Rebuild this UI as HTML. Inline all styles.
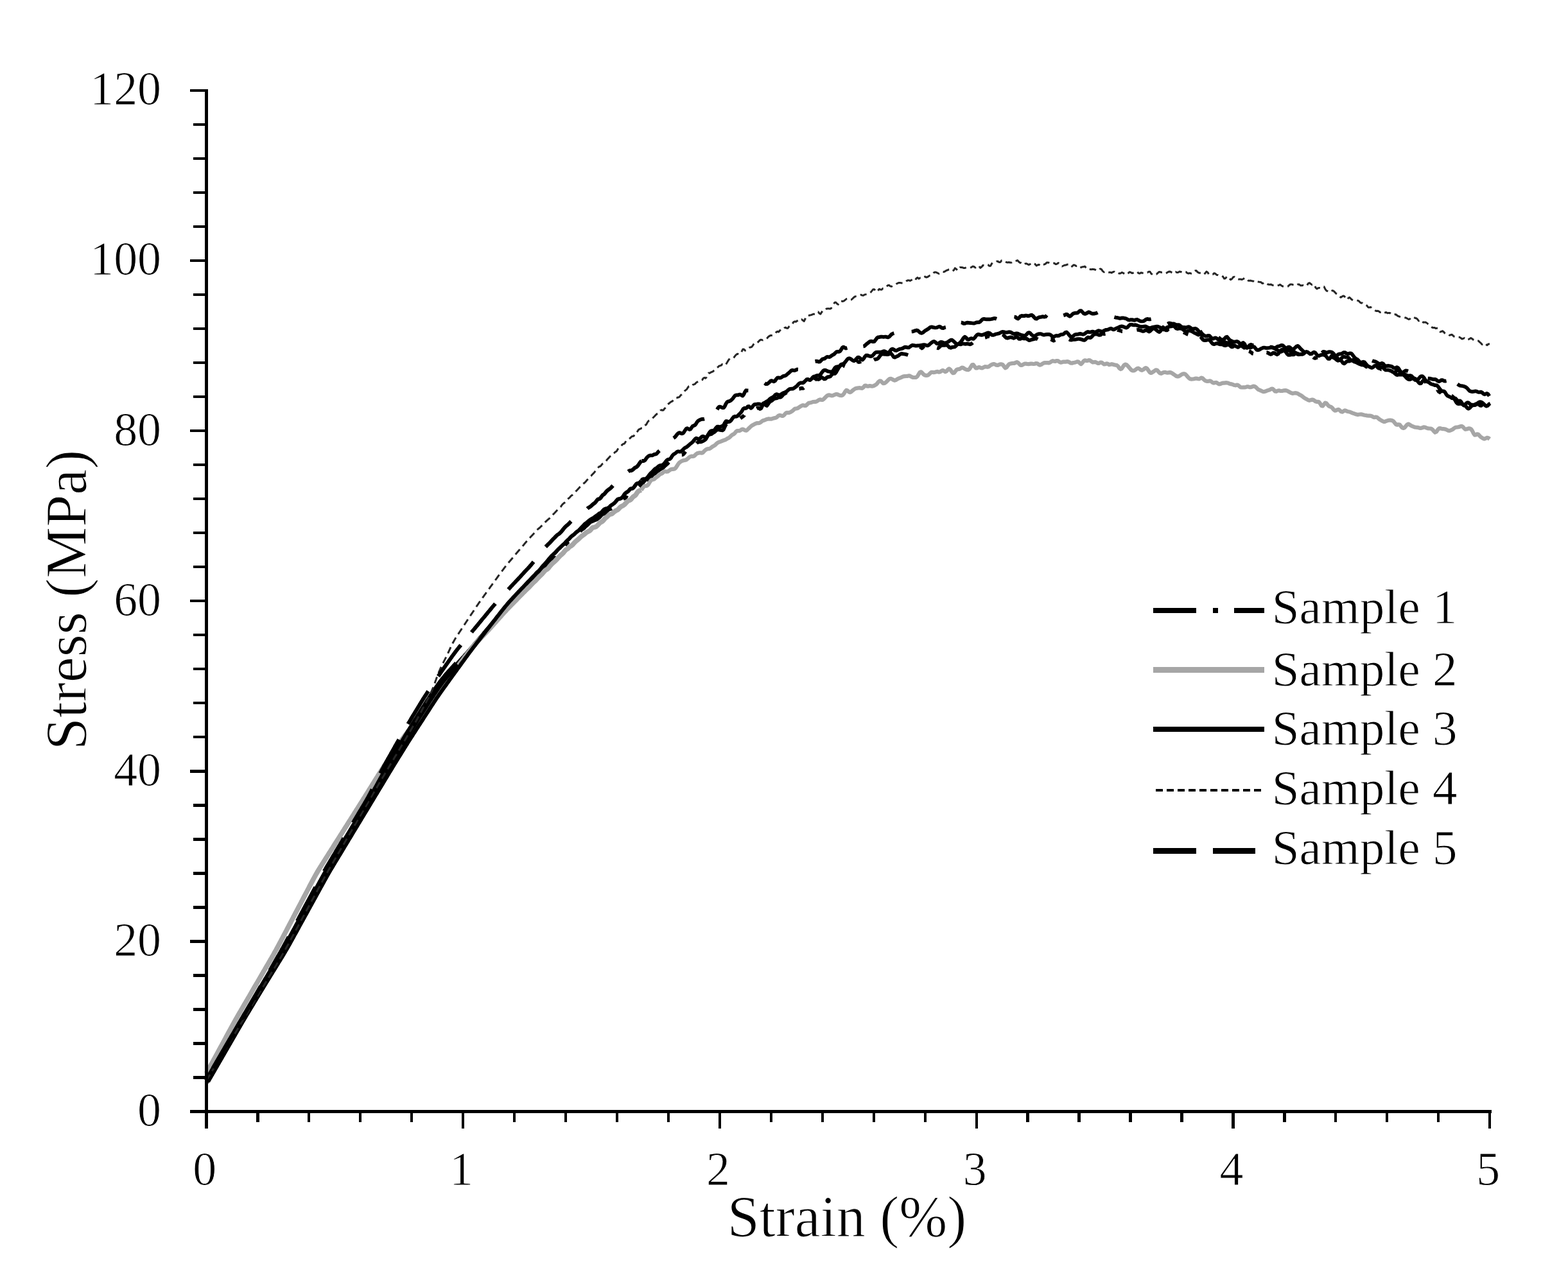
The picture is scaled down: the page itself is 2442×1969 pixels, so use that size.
<!DOCTYPE html>
<html><head><meta charset="utf-8"><title>Stress-Strain</title>
<style>html,body{margin:0;padding:0;background:#fff;overflow:hidden}svg{display:block}</style>
</head><body>
<svg width="2442" height="1969" viewBox="0 0 2442 1969">
<rect width="2442" height="1969" fill="#fff"/>
<g fill="none" stroke-linejoin="round" stroke-linecap="butt">
<path d="M322.4,1684.0 L323.4,1682.3 L324.4,1680.5 L325.4,1678.8 L326.4,1677.1 L327.4,1675.3 L328.4,1673.6 L329.4,1671.9 L330.4,1670.1 L331.4,1668.4 L332.4,1666.7 L333.4,1664.9 L334.4,1663.2 L335.4,1661.5 L336.4,1659.7 L337.4,1658.0 L338.4,1656.3 L339.4,1654.5 L340.4,1652.8 L341.4,1651.1 L342.4,1649.3 L343.4,1647.6 L344.4,1645.9 L345.4,1644.1 L346.4,1642.4 L347.4,1640.7 L348.4,1638.9 L349.4,1637.2 L350.4,1635.5 L351.4,1633.8 L352.4,1632.0 L353.4,1630.3 L354.4,1628.6 L355.4,1626.8 L356.4,1625.1 L357.4,1623.4 L358.4,1621.6 L359.4,1619.9 L360.4,1618.2 L361.4,1616.4 L362.4,1614.7 L363.4,1613.0 L364.4,1611.2 L365.4,1609.5 L366.4,1607.8 L367.4,1606.0 L368.4,1604.3 L369.4,1602.6 L370.4,1600.8 L371.4,1599.1 L372.4,1597.4 L373.4,1595.6 L374.4,1593.9 L375.4,1592.2 L376.4,1590.5 L377.5,1588.7 L378.5,1587.0 L379.5,1585.3 L380.5,1583.6 L381.5,1581.8 L382.5,1580.1 L383.6,1578.4 L384.6,1576.7 L385.6,1575.0 L386.6,1573.2 L387.7,1571.5 L388.7,1569.8 L389.7,1568.1 L390.7,1566.4 L391.8,1564.7 L392.8,1562.9 L393.8,1561.2 L394.8,1559.5 L395.9,1557.8 L396.9,1556.1 L397.9,1554.3 L398.9,1552.6 L400.0,1550.9 L401.0,1549.2 L402.0,1547.5 L403.0,1545.8 L404.1,1544.0 L405.1,1542.3 L406.1,1540.6 L407.1,1538.9 L408.2,1537.2 L409.2,1535.4 L410.2,1533.7 L411.2,1532.0 L412.3,1530.3 L413.3,1528.6 L414.3,1526.8 L415.3,1525.1 L416.4,1523.4 L417.4,1521.7 L418.4,1520.0 L419.4,1518.3 L420.5,1516.5 L421.5,1514.8 L422.5,1513.1 L423.5,1511.4 L424.6,1509.7 L425.6,1507.9 L426.6,1506.2 L427.6,1504.5 L428.7,1502.8 L429.7,1501.1 L430.7,1499.4 L431.7,1497.6 L432.8,1495.9 L433.8,1494.2 L434.8,1492.5 L435.8,1490.8 L436.8,1489.0 L437.9,1487.3 L438.9,1485.6 L439.9,1483.9 L440.9,1482.1 L441.9,1480.4 L442.9,1478.6 L443.8,1476.9 L444.8,1475.2 L445.8,1473.4 L446.8,1471.7 L447.7,1469.9 L448.7,1468.2 L449.6,1466.4 L450.6,1464.6 L451.6,1462.9 L452.5,1461.1 L453.5,1459.4 L454.4,1457.6 L455.4,1455.9 L456.3,1454.1 L457.3,1452.3 L458.2,1450.6 L459.2,1448.8 L460.2,1447.1 L461.1,1445.3 L462.1,1443.6 L463.0,1441.8 L464.0,1440.0 L464.9,1438.3 L465.9,1436.5 L466.8,1434.8 L467.8,1433.0 L468.8,1431.2 L469.7,1429.5 L470.7,1427.7 L471.6,1426.0 L472.6,1424.2 L473.5,1422.5 L474.5,1420.7 L475.4,1418.9 L476.4,1417.2 L477.4,1415.4 L478.3,1413.7 L479.3,1411.9 L480.2,1410.2 L481.2,1408.4 L482.1,1406.6 L483.1,1404.9 L484.1,1403.1 L485.0,1401.4 L486.0,1399.6 L486.9,1397.9 L487.9,1396.1 L488.8,1394.3 L489.8,1392.6 L490.7,1390.8 L491.7,1389.1 L492.7,1387.3 L493.6,1385.5 L494.6,1383.8 L495.5,1382.0 L496.5,1380.3 L497.4,1378.5 L498.4,1376.8 L499.3,1375.0 L500.3,1373.2 L501.3,1371.5 L502.2,1369.7 L503.2,1368.0 L504.2,1366.2 L505.1,1364.5 L506.1,1362.7 L507.1,1361.0 L508.1,1359.3 L509.1,1357.5 L510.1,1355.8 L511.1,1354.1 L512.1,1352.4 L513.1,1350.6 L514.2,1348.9 L515.2,1347.2 L516.2,1345.5 L517.2,1343.8 L518.3,1342.0 L519.3,1340.3 L520.3,1338.6 L521.4,1336.9 L522.4,1335.2 L523.4,1333.5 L524.5,1331.8 L525.5,1330.0 L526.5,1328.3 L527.5,1326.6 L528.6,1324.9 L529.6,1323.2 L530.6,1321.5 L531.7,1319.7 L532.7,1318.0 L533.7,1316.3 L534.8,1314.6 L535.8,1312.9 L536.8,1311.2 L537.8,1309.5 L538.9,1307.7 L539.9,1306.0 L540.9,1304.3 L542.0,1302.6 L543.0,1300.9 L544.0,1299.2 L545.1,1297.4 L546.1,1295.7 L547.1,1294.0 L548.1,1292.3 L549.2,1290.6 L550.2,1288.9 L551.2,1287.2 L552.3,1285.4 L553.3,1283.7 L554.3,1282.0 L555.4,1280.3 L556.4,1278.6 L557.4,1276.9 L558.4,1275.2 L559.5,1273.4 L560.5,1271.7 L561.5,1270.0 L562.6,1268.3 L563.6,1266.6 L564.6,1264.9 L565.7,1263.1 L566.7,1261.4 L567.7,1259.7 L568.7,1258.0 L569.8,1256.3 L570.8,1254.6 L571.8,1252.8 L572.9,1251.1 L573.9,1249.4 L574.9,1247.7 L575.9,1246.0 L576.9,1244.2 L577.9,1242.5 L578.9,1240.8 L579.9,1239.1 L580.9,1237.3 L581.9,1235.6 L582.9,1233.8 L583.9,1232.1 L584.8,1230.3 L585.8,1228.6 L586.8,1226.8 L587.8,1225.1 L588.7,1223.3 L589.7,1221.6 L590.6,1219.8 L591.6,1218.1 L592.6,1216.3 L593.5,1214.6 L594.5,1212.8 L595.5,1211.1 L596.4,1209.3 L597.4,1207.6 L598.4,1205.8 L599.3,1204.1 L600.3,1202.3 L601.3,1200.6 L602.3,1198.8 L603.3,1197.1 L604.2,1195.3 L605.2,1193.6 L606.2,1191.9 L607.2,1190.1 L608.2,1188.4 L609.3,1186.7 L610.3,1185.0 L611.3,1183.2 L612.3,1181.5 L613.3,1179.8 L614.3,1178.1 L615.4,1176.3 L616.4,1174.6 L617.4,1172.9 L618.4,1171.2 L619.4,1169.5 L620.4,1167.7 L621.5,1166.0 L622.5,1164.3 L623.5,1162.6 L624.5,1160.8 L625.6,1159.1 L626.6,1157.4 L627.6,1155.7 L628.6,1154.0 L629.7,1152.3 L630.7,1150.6 L631.8,1148.8 L632.8,1147.1 L633.8,1145.4 L634.9,1143.7 L635.9,1142.0 L637.0,1140.3 L638.0,1138.6 L639.1,1136.9 L640.1,1135.2 L641.2,1133.5 L642.2,1131.8 L643.3,1130.1 L644.3,1128.4 L645.4,1126.7 L646.4,1125.0 L647.5,1123.3 L648.5,1121.6 L649.6,1119.9 L650.7,1118.2 L651.7,1116.5 L652.8,1114.8 L653.8,1113.1 L654.9,1111.4 L656.0,1109.7 L657.0,1108.0 L658.1,1106.3 L659.2,1104.6 L660.2,1102.9 L661.3,1101.3 L662.4,1099.6 L663.4,1097.9 L664.5,1096.2 L665.6,1094.5 L666.7,1092.8 L667.7,1091.1 L668.8,1089.4 L669.9,1087.8 L671.0,1086.1 L672.1,1084.4 L673.2,1082.8 L674.3,1081.1 L675.4,1079.4 L676.6,1077.8 L677.7,1076.1 L678.8,1074.5 L680.0,1072.8 L681.1,1071.2 L682.2,1069.5 L683.4,1067.9 L684.5,1066.3 L685.7,1064.7 L686.9,1063.0 L688.1,1061.4 L689.3,1059.9 L690.5,1058.3 L691.8,1056.7 L693.1,1055.2 L694.3,1053.7 L695.6,1052.1 L696.9,1050.6 L698.3,1049.1 L699.6,1047.6 L700.9,1046.1 L702.3,1044.6 L703.6,1043.2 L704.9,1041.7 L706.3,1040.2 L707.6,1038.7 L709.0,1037.2 L710.3,1035.7 L711.7,1034.3 L713.0,1032.8 L714.3,1031.3 L715.7,1029.8 L717.0,1028.3 L718.4,1026.8 L719.7,1025.4 L721.1,1023.9 L722.4,1022.4 L723.7,1020.9 L725.1,1019.4 L726.4,1017.9 L727.7,1016.4 L729.0,1014.9 L730.4,1013.4 L731.7,1011.9 L733.0,1010.4 L734.3,1008.9 L735.6,1007.4 L736.9,1005.9 L738.2,1004.3 L739.5,1002.8 L740.8,1001.3 L742.1,999.8 L743.4,998.2 L744.7,996.7 L746.0,995.2 L747.3,993.7 L748.6,992.1 L749.9,990.6 L751.2,989.1 L752.5,987.6 L753.8,986.0 L755.1,984.5 L756.3,983.0 L757.6,981.5 L758.9,979.9 M758.9,979.9 L758.9,979.9 L760.2,978.4 L761.5,976.9 L762.8,975.4 L764.1,973.8 L765.4,972.3 L766.7,970.8 L768.0,969.3 L769.3,967.7 L770.6,966.2 L771.9,964.7 L773.2,963.2 L774.5,961.6 L775.8,960.1 L777.1,958.6 L778.4,957.1 L779.7,955.6 L781.0,954.0 L782.3,952.5 L782.4,952.3 M798.5,934.5 L799.7,933.2 L801.1,931.8 L802.5,930.3 L803.8,928.9 L804.0,928.7 M820.7,911.5 L821.9,910.3 L823.3,908.8 L824.7,907.4 L826.1,905.9 L827.5,904.3 L828.9,902.8 L830.3,901.5 L831.7,900.3 L833.1,898.8 L834.5,897.2 L835.9,895.6 L837.3,894.2 L838.7,892.9 L840.0,891.5 L841.4,890.0 L842.8,888.6 L844.1,887.2 L845.5,885.8 L846.8,884.5 L848.1,882.9 L849.4,881.2 L850.8,879.7 L852.1,878.3 L853.4,877.0 L854.7,875.5 L856.0,874.0 L857.3,872.4 L858.7,870.8 L860.0,869.2 L861.4,867.5 L862.8,866.1 L862.8,866.0 M879.8,849.2 L879.9,849.1 L881.3,847.7 L882.8,846.1 L884.2,844.6 L885.5,843.6 M903.4,827.9 L903.4,827.9 L904.9,826.0 L906.4,824.7 L907.9,823.9 L909.4,822.7 L910.9,821.1 L912.5,819.6 L914.0,818.4 L915.5,817.1 L917.1,815.5 L918.7,813.9 L920.3,812.8 L921.9,812.2 L923.5,811.5 L925.1,810.8 L926.8,810.1 L928.4,809.5 L930.0,808.7 L931.7,807.4 L933.3,806.1 L935.0,804.4 L936.7,802.4 L938.3,801.1 L940.0,800.4 L941.7,799.8 L943.3,798.4 L945.0,796.4 L946.6,794.7 L948.2,793.6 L949.8,792.9 L951.5,792.5 L952.6,791.9 M970.6,776.9 L971.8,776.4 L973.3,776.1 L974.9,774.4 L976.3,771.9 M995.3,757.9 L996.5,756.6 L998.1,755.1 L999.6,753.7" stroke="#000" stroke-width="6.0"/>
<path d="M998.1,755.1 L999.6,753.7 L1001.2,752.3 L1002.7,750.5 L1004.3,748.2 L1005.8,746.9 L1007.4,746.9 L1008.9,747.3 L1010.5,747.3 L1012.1,746.1 L1013.7,743.9 L1015.2,741.5 L1016.8,739.6 L1018.4,738.5 L1020.0,737.6 L1021.6,736.2 L1023.2,734.7 L1024.9,733.6 L1026.5,732.5 L1028.1,731.3 L1029.7,730.3 L1031.3,729.5 L1032.9,728.5 L1034.6,726.8 L1036.2,725.1 L1037.8,723.9 L1039.4,722.6 L1041.0,720.7 L1041.7,720.0 M1061.9,708.6 L1062.1,708.6 L1063.8,708.0 L1065.4,706.4 L1067.1,704.1 L1067.6,703.4 M1084.7,690.7 L1085.6,689.7 L1087.4,688.8 L1089.1,688.4 L1090.8,688.4 L1092.5,688.1 L1094.2,687.4 L1095.9,686.5 L1097.7,685.4 L1099.4,683.8 L1101.1,680.9 L1102.8,678.0 L1104.5,676.8 L1106.2,676.6 L1107.9,676.2 L1109.7,674.8 L1111.4,673.7 L1113.1,672.8 L1114.8,671.1 L1116.5,669.7 L1118.2,669.3 L1119.9,669.5 L1121.7,669.9 L1123.4,670.1 L1125.1,670.5 L1126.8,669.2 L1128.5,665.6 L1130.2,661.9 L1131.9,660.5 L1132.8,661.1 M1153.0,651.7 L1154.0,650.9 L1155.7,649.7 L1157.4,648.5 L1159.1,646.9 L1159.2,646.7 M1178.4,636.4 L1180.0,635.5 L1181.8,635.7 L1183.6,637.0 L1185.4,636.1 L1187.2,632.2 L1189.0,628.2 L1190.9,628.4 L1192.7,631.4 L1194.5,632.0 L1196.3,629.4 L1198.1,626.7 L1199.9,625.3 L1201.8,624.3 L1203.6,622.8 L1205.4,621.2 L1207.2,620.7 L1209.0,620.5 L1210.8,619.8 L1212.6,619.0 L1214.5,618.8 L1216.3,618.6 L1218.1,616.8 L1219.9,614.5 L1221.7,613.4 L1223.5,612.6 L1224.8,611.3 M1244.5,605.7 L1245.3,605.6 L1247.1,604.8 L1248.9,604.7 L1250.7,605.0 L1252.0,604.0 M1268.8,592.5 L1268.9,592.3 L1270.7,590.6 L1272.6,590.3 L1274.4,591.0 L1276.2,590.3 L1278.1,588.4 L1279.9,587.8 L1281.8,589.0 L1283.6,590.4 L1285.4,590.2 L1287.3,588.3 L1289.1,587.2 L1291.0,587.1 L1292.9,586.6 L1294.7,584.5 L1296.6,582.3 L1298.4,582.2 L1300.3,582.0 L1302.1,580.0 L1304.0,576.7 L1305.8,573.5 L1307.7,570.4 L1309.5,567.9 L1311.4,567.3 L1313.2,568.7 L1315.1,570.4 L1315.8,570.7 M1333.4,564.1 L1333.7,563.6 L1335.6,563.1 L1337.4,564.1 L1339.3,563.8 L1340.6,562.9 M1361.0,560.5 L1362.1,559.9 L1364.1,559.6 L1366.0,559.3 L1368.0,557.8 L1370.0,554.9 L1371.9,552.5 L1373.9,551.4 L1375.9,551.7 L1377.9,551.9 L1379.8,551.9 L1381.8,552.3 L1383.8,552.0 L1385.8,551.0 L1387.7,550.7 L1389.7,553.0 L1391.7,556.0 L1393.7,556.7 L1395.6,555.7 L1397.6,554.9 L1399.6,553.8 L1401.6,551.9 L1403.5,550.9 L1405.5,551.1 L1407.5,551.5 L1409.4,551.7 L1411.4,552.1 L1413.4,552.9 L1414.2,553.2 M1433.4,544.2 L1435.0,541.9 L1437.0,541.2 L1439.0,543.2 L1439.1,543.3 M1459.3,541.8 L1460.8,542.3 L1462.7,541.0 L1464.7,538.9 L1466.7,537.8 L1468.7,537.8 L1470.7,538.0 L1472.7,537.6 L1474.7,537.5 L1476.7,539.1 L1478.7,541.3 L1480.7,541.8 L1482.7,540.9 L1484.7,540.6 L1486.7,540.5 L1488.6,539.0 L1490.6,536.9 L1492.6,535.9 L1494.6,536.3 L1496.6,536.3 L1498.6,535.4 L1500.5,535.5 L1502.5,535.8 L1504.4,535.8 L1506.4,535.4 L1508.3,535.7 L1510.3,536.4 L1512.2,535.9 L1514.1,534.6 L1514.9,533.9 M1534.0,525.8 L1535.4,525.5 L1537.3,524.4 L1539.3,523.9 L1541.2,524.3 L1541.5,524.4 M1561.0,521.3 L1563.0,522.0 L1565.0,524.3 L1567.0,526.3 L1569.0,526.7 L1571.0,526.0 L1573.0,525.4 L1575.0,525.3 L1576.9,526.1 L1578.9,526.8 L1580.9,525.7 L1582.9,524.3 L1584.9,525.6 L1586.9,527.9 L1588.9,528.0 L1590.9,526.7 L1592.9,526.8 L1594.9,527.5 L1596.9,527.2 L1598.9,527.6 L1600.9,529.1 L1602.9,530.2 L1604.9,529.8 L1606.9,528.8 L1608.9,528.6 L1610.9,528.1 L1612.9,527.4 L1614.9,527.7 L1616.3,528.5 M1636.4,528.4 L1636.9,528.4 L1638.9,529.8 L1640.9,530.8 L1642.9,529.8 L1643.4,529.6 M1665.1,528.6 L1666.8,529.5 L1668.8,529.6 L1670.8,529.0 L1672.8,529.0 L1674.8,528.8 L1676.8,528.4 L1678.8,528.0 L1680.7,528.0 L1682.7,528.4 L1684.7,528.8 L1686.7,529.7 L1688.7,530.0 L1690.6,528.8 L1692.6,526.6 L1694.5,525.4 L1696.5,525.9 L1698.4,526.1 L1700.4,524.5 L1702.3,522.1 L1704.3,520.9 L1706.2,520.5 L1708.1,520.5 L1710.1,521.2 L1712.0,522.0 L1713.9,521.7 L1715.9,520.1 L1717.8,519.5 L1719.8,520.3 L1721.5,520.0 M1740.5,513.7 L1741.5,514.3 L1743.5,514.7 L1745.5,515.3 L1747.5,516.2 L1748.0,516.2 M1770.3,514.0 L1771.4,513.8 L1773.4,513.9 L1775.4,514.4 L1777.4,515.0 L1779.4,516.0 L1781.4,515.9 L1783.4,514.6 L1785.4,514.0 L1787.4,515.3 L1789.4,516.6 L1791.4,515.6 L1793.4,513.4 L1795.4,511.8 L1797.4,511.7 L1799.4,512.8 L1801.4,514.5 L1803.4,516.2 L1805.4,517.1 L1807.4,515.6 L1809.4,511.9 L1811.4,509.8 L1813.4,511.6 L1815.4,514.3 L1817.4,514.4 L1819.4,512.8 L1820.9,512.5 M1843.3,517.5 L1845.1,518.5 L1847.1,519.5 L1849.0,520.6 L1850.4,521.1 M1869.4,524.0 L1870.0,524.4 L1871.8,527.2 L1873.7,529.3 L1875.6,530.2 L1877.5,530.2 L1879.4,529.7 L1881.3,529.2 L1883.2,529.3 L1885.1,531.1 L1887.0,533.8 L1888.9,535.7 L1890.8,536.2 L1892.7,535.6 L1894.6,534.9 L1896.6,535.1 L1898.5,536.0 L1900.4,536.4 L1902.3,536.4 L1904.2,536.8 L1906.1,537.9 L1908.1,538.3 L1910.0,537.7 L1911.9,536.7 L1913.8,536.6 L1915.8,538.4 L1917.7,540.3 L1919.6,540.4 L1921.5,539.3 L1922.7,539.4 M1945.0,547.2 L1945.0,547.2 L1947.0,547.8 L1949.0,549.1 L1950.9,550.8 L1951.9,551.0 M1972.5,549.0 L1972.8,549.0 L1974.8,549.7 L1976.8,551.0 L1978.8,552.0 L1980.8,551.3 L1982.8,549.7 L1984.8,549.8 L1986.8,551.3 L1988.8,552.3 L1990.8,551.1 L1992.7,548.3 L1994.7,545.8 L1996.7,544.5 L1998.7,544.9 L2000.7,546.3 L2002.7,548.5 L2004.6,551.3 L2006.6,553.0 L2008.6,553.0 L2010.5,552.3 L2012.5,552.5 L2014.5,552.5 L2016.4,551.3 L2018.4,550.2 L2020.4,550.5 L2022.3,551.7 L2024.0,552.7 M2045.2,556.5 L2046.0,557.2 L2048.0,558.0 L2049.9,557.3 L2051.9,556.7 L2052.5,557.0 M2074.9,556.4 L2075.7,556.7 L2077.7,557.6 L2079.7,558.8 L2081.7,560.5 L2083.7,561.8 L2085.7,561.2 L2087.7,560.8 L2089.7,562.8 L2091.7,565.6 L2093.6,566.4 L2095.6,564.6 L2097.6,562.8 L2099.5,562.7 L2101.5,562.6 L2103.4,561.7 L2105.4,561.3 L2107.3,562.3 L2109.2,563.5 L2111.2,564.1 L2113.1,564.9 L2115.0,565.9 L2116.9,566.8 L2118.8,567.7 L2120.7,568.4 L2122.7,568.4 L2124.6,568.9 L2126.5,570.3 L2128.4,571.5 L2128.7,571.4 M2146.4,569.6 L2147.6,570.5 L2149.5,573.7 L2151.4,575.4 L2151.6,575.4 M2171.4,581.1 L2172.6,582.0 L2174.6,583.7 L2176.5,584.1 L2178.4,583.6 L2180.3,583.7 L2182.3,583.6 L2184.2,583.4 L2186.1,584.0 L2188.1,586.0 L2190.0,588.2 L2191.9,589.8 L2193.8,591.0 L2195.8,591.1 L2197.7,590.4 L2199.6,589.3 L2201.5,588.9 L2203.5,589.6 L2205.4,590.9 L2207.3,593.2 L2209.2,595.6 L2211.1,597.3 L2213.0,597.2 L2214.9,594.8 L2216.7,592.5 L2218.6,592.5 L2220.4,595.1 L2221.1,596.6 M2239.1,607.4 L2239.1,607.5 L2240.8,610.2 L2242.4,611.0 L2244.1,612.0 L2244.7,612.7 M2260.6,616.7 L2261.3,616.9 L2263.0,618.4 L2264.8,621.0 L2266.6,624.2 L2268.4,627.2 L2270.2,629.0 L2272.0,629.1 L2273.8,628.8 L2275.7,629.0 L2277.5,629.6 L2279.4,630.3 L2281.3,631.2 L2283.2,633.2 L2285.1,635.6 L2287.1,636.6 L2289.1,635.3 L2291.0,633.1 L2293.0,631.7 L2295.0,631.1 L2297.0,630.0 L2299.0,629.1 L2301.0,629.2 L2303.0,630.0 L2305.0,631.6 L2307.0,631.9 L2309.0,629.8 L2309.3,629.4" stroke="#000" stroke-width="5.7"/>
<path d="M321.5,1672.0 L322.5,1670.2 L323.4,1668.5 L324.4,1666.7 L325.3,1665.0 L326.3,1663.2 L327.2,1661.5 L328.2,1659.7 L329.1,1657.9 L330.1,1656.2 L331.0,1654.4 L332.0,1652.7 L332.9,1650.9 L333.9,1649.1 L334.9,1647.4 L335.8,1645.6 L336.8,1643.9 L337.7,1642.1 L338.7,1640.4 L339.6,1638.6 L340.6,1636.8 L341.5,1635.1 L342.5,1633.3 L343.4,1631.6 L344.4,1629.8 L345.4,1628.1 L346.3,1626.3 L347.3,1624.5 L348.2,1622.8 L349.2,1621.0 L350.1,1619.3 L351.1,1617.5 L352.0,1615.7 L353.0,1614.0 L353.9,1612.2 L354.9,1610.5 L355.8,1608.7 L356.8,1607.0 L357.8,1605.2 L358.7,1603.4 L359.7,1601.7 L360.6,1599.9 L361.6,1598.2 L362.5,1596.4 L363.5,1594.7 L364.5,1592.9 L365.5,1591.2 L366.4,1589.4 L367.4,1587.7 L368.4,1586.0 L369.4,1584.2 L370.4,1582.5 L371.4,1580.7 L372.4,1579.0 L373.4,1577.3 L374.4,1575.6 L375.4,1573.8 L376.4,1572.1 L377.4,1570.4 L378.4,1568.6 L379.4,1566.9 L380.4,1565.2 L381.4,1563.5 L382.5,1561.7 L383.5,1560.0 L384.5,1558.3 L385.5,1556.5 L386.5,1554.8 L387.5,1553.1 L388.5,1551.4 L389.5,1549.6 L390.5,1547.9 L391.5,1546.2 L392.5,1544.4 L393.5,1542.7 L394.5,1541.0 L395.5,1539.2 L396.5,1537.5 L397.5,1535.8 L398.5,1534.1 L399.6,1532.3 L400.6,1530.6 L401.6,1528.9 L402.6,1527.1 L403.6,1525.4 L404.6,1523.7 L405.6,1522.0 L406.6,1520.2 L407.6,1518.5 L408.6,1516.8 L409.6,1515.0 L410.6,1513.3 L411.6,1511.6 L412.6,1509.9 L413.6,1508.1 L414.6,1506.4 L415.6,1504.7 L416.7,1502.9 L417.7,1501.2 L418.7,1499.5 L419.7,1497.8 L420.7,1496.0 L421.7,1494.3 L422.7,1492.6 L423.7,1490.8 L424.7,1489.1 L425.7,1487.4 L426.7,1485.6 L427.6,1483.9 L428.6,1482.1 L429.6,1480.4 L430.6,1478.6 L431.5,1476.9 L432.5,1475.1 L433.4,1473.4 L434.4,1471.6 L435.3,1469.8 L436.2,1468.1 L437.2,1466.3 L438.1,1464.5 L439.0,1462.8 L440.0,1461.0 L440.9,1459.2 L441.8,1457.5 L442.8,1455.7 L443.7,1453.9 L444.6,1452.1 L445.6,1450.4 L446.5,1448.6 L447.4,1446.8 L448.3,1445.1 L449.3,1443.3 L450.2,1441.5 L451.1,1439.7 L452.1,1438.0 L453.0,1436.2 L453.9,1434.4 L454.9,1432.7 L455.8,1430.9 L456.7,1429.1 L457.6,1427.4 L458.6,1425.6 L459.5,1423.8 L460.4,1422.0 L461.4,1420.3 L462.3,1418.5 L463.2,1416.7 L464.1,1415.0 L465.1,1413.2 L466.0,1411.4 L466.9,1409.6 L467.9,1407.9 L468.8,1406.1 L469.7,1404.3 L470.7,1402.6 L471.6,1400.8 L472.5,1399.0 L473.4,1397.2 L474.4,1395.5 L475.3,1393.7 L476.2,1391.9 L477.2,1390.2 L478.1,1388.4 L479.0,1386.6 L480.0,1384.9 L480.9,1383.1 L481.8,1381.3 L482.7,1379.5 L483.7,1377.8 L484.6,1376.0 L485.5,1374.2 L486.5,1372.5 L487.4,1370.7 L488.4,1368.9 L489.3,1367.2 L490.3,1365.4 L491.2,1363.7 L492.2,1361.9 L493.2,1360.2 L494.2,1358.5 L495.2,1356.8 L496.3,1355.0 L497.3,1353.3 L498.4,1351.6 L499.4,1349.9 L500.5,1348.2 L501.5,1346.5 L502.6,1344.8 L503.7,1343.2 L504.7,1341.5 L505.8,1339.8 L506.9,1338.1 L507.9,1336.4 L509.0,1334.7 L510.1,1333.0 L511.2,1331.3 L512.2,1329.6 L513.3,1327.9 L514.4,1326.3 L515.4,1324.6 L516.5,1322.9 L517.6,1321.2 L518.7,1319.5 L519.7,1317.8 L520.8,1316.1 L521.9,1314.4 L522.9,1312.7 L524.0,1311.1 L525.1,1309.4 L526.1,1307.7 L527.2,1306.0 L528.3,1304.3 L529.4,1302.6 L530.4,1300.9 L531.5,1299.2 L532.6,1297.5 L533.6,1295.8 L534.7,1294.2 L535.8,1292.5 L536.8,1290.8 L537.9,1289.1 L539.0,1287.4 L540.1,1285.7 L541.1,1284.0 L542.2,1282.3 L543.3,1280.6 L544.3,1278.9 L545.4,1277.3 L546.5,1275.6 L547.5,1273.9 L548.6,1272.2 L549.7,1270.5 L550.8,1268.8 L551.8,1267.1 L552.9,1265.4 L554.0,1263.7 L555.0,1262.0 L556.1,1260.4 L557.2,1258.7 L558.2,1257.0 L559.3,1255.3 L560.4,1253.6 L561.5,1251.9 L562.5,1250.2 L563.6,1248.5 L564.7,1246.8 L565.7,1245.1 L566.8,1243.5 L567.9,1241.8 L568.9,1240.1 L570.0,1238.4 L571.0,1236.7 L572.1,1235.0 L573.2,1233.3 L574.2,1231.6 L575.3,1229.9 L576.3,1228.2 L577.4,1226.5 L578.5,1224.8 L579.5,1223.1 L580.6,1221.4 L581.6,1219.7 L582.7,1218.0 L583.7,1216.3 L584.8,1214.6 L585.9,1212.9 L586.9,1211.2 L588.0,1209.5 L589.0,1207.8 L590.1,1206.1 L591.2,1204.4 L592.2,1202.7 L593.3,1201.0 L594.4,1199.4 L595.4,1197.7 L596.5,1196.0 L597.6,1194.3 L598.7,1192.6 L599.8,1191.0 L600.9,1189.3 L602.0,1187.6 L603.1,1186.0 L604.2,1184.3 L605.3,1182.6 L606.4,1181.0 L607.5,1179.3 L608.7,1177.6 L609.8,1176.0 L610.9,1174.3 L612.0,1172.7 L613.1,1171.0 L614.2,1169.3 L615.3,1167.7 L616.5,1166.0 L617.6,1164.4 L618.7,1162.7 L619.8,1161.1 L621.0,1159.4 L622.1,1157.8 L623.2,1156.1 L624.4,1154.5 L625.5,1152.9 L626.7,1151.2 L627.9,1149.6 L629.1,1148.0 L630.2,1146.4 L631.4,1144.8 L632.6,1143.2 L633.8,1141.6 L635.0,1140.0 L636.2,1138.4 L637.4,1136.8 L638.6,1135.2 L639.8,1133.6 L641.0,1132.0 L642.2,1130.4 L643.4,1128.8 L644.6,1127.2 L645.8,1125.5 L647.0,1123.9 L648.2,1122.3 L649.4,1120.7 L650.6,1119.1 L651.8,1117.5 L652.9,1115.9 L654.1,1114.3 L655.3,1112.7 L656.5,1111.0 L657.6,1109.4 L658.8,1107.8 L660.0,1106.2 L661.2,1104.6 L662.3,1102.9 L663.5,1101.3 L664.7,1099.7 L665.8,1098.1 L667.0,1096.5 L668.2,1094.8 L669.4,1093.2 L670.6,1091.6 L671.8,1090.0 L673.0,1088.4 L674.2,1086.8 L675.4,1085.2 L676.6,1083.7 L677.9,1082.1 L679.1,1080.5 L680.4,1079.0 L681.6,1077.4 L682.9,1075.9 L684.2,1074.4 L685.5,1072.8 L686.8,1071.3 L688.0,1069.8 L689.3,1068.2 L690.6,1066.7 L691.9,1065.2 L693.2,1063.6 L694.4,1062.1 L695.7,1060.5 L697.0,1059.0 L698.2,1057.4 L699.4,1055.8 L700.7,1054.3 L701.9,1052.7 L703.1,1051.1 L704.3,1049.5 L705.5,1047.9 L706.7,1046.3 L708.0,1044.7 L709.2,1043.1 L710.4,1041.5 L711.6,1039.9 L712.8,1038.3 L714.0,1036.7 L715.2,1035.1 L716.4,1033.5 L717.6,1031.9 L718.8,1030.3 L720.0,1028.7 L721.2,1027.1 L722.4,1025.5 L723.6,1023.9 L724.8,1022.3 L726.0,1020.8 L727.2,1019.2 L728.4,1017.6 L729.7,1016.0 L730.9,1014.5 L732.2,1012.9 L733.4,1011.3 L734.7,1009.8 L736.0,1008.3 L737.3,1006.7 L738.6,1005.2 L739.9,1003.7 L741.2,1002.2 L742.5,1000.7 L743.9,999.3 L745.2,997.8 L746.6,996.3 L748.0,994.9 L749.3,993.4 L750.7,992.0 L752.1,990.5 L753.5,989.1 L754.8,987.6 L756.2,986.1 L757.6,984.7 L759.0,983.2 L760.3,981.8 L761.7,980.3 L763.0,978.8 L764.4,977.3 L765.7,975.9 L767.1,974.4 L768.4,972.9 L769.7,971.4 L771.1,969.9 L772.4,968.4 L773.7,966.9 L775.1,965.4 L776.4,963.9 L777.7,962.4 L779.1,961.0 L780.4,959.5 L781.7,958.0 L783.1,956.5 L784.4,955.0 L785.8,953.5 L787.1,952.1 L788.5,950.6 L789.8,949.1 L791.2,947.7 L792.6,946.2 L794.0,944.8 L795.4,943.4 L796.8,941.9 L798.2,940.5 L799.6,939.1 L801.0,937.6 L802.4,936.2 L803.8,934.8 L805.2,933.3 L806.6,931.9 L808.0,930.5 L809.4,929.0 L810.8,927.6 L812.2,926.2 L813.6,924.8 L815.0,923.4 L816.4,922.0 L817.8,920.6 L819.3,919.1 L820.7,917.7 L822.1,916.4 L823.5,915.1 L824.9,913.7 L826.3,912.2 L827.7,910.6 L829.1,909.1 L830.5,907.8 L831.9,906.5 L833.3,905.2 L834.8,903.7 L836.2,902.2 L837.6,900.7 L839.0,899.2 L840.4,897.8 L841.8,896.5 L843.2,895.1 L844.6,893.7 L846.0,892.0 L847.4,890.3 L848.9,888.8 L850.3,887.7 L851.7,887.0 L853.1,885.9 L854.5,884.4 L855.9,882.5 L857.3,880.8 L858.7,879.3 L860.1,877.9 L861.6,876.5 L863.0,875.3 L864.4,874.1 L865.8,872.8 L867.2,871.4 L868.6,869.8 L870.0,868.2 L871.5,866.6 L872.9,865.2 L874.3,864.0 L875.7,862.8 L877.2,861.4 L878.6,859.5 L880.1,857.7 L881.5,856.3 L883.0,855.5 L884.5,854.4 L886.0,852.8 L887.5,851.4 L888.9,850.6 L890.4,849.8 L891.9,848.4 L893.4,846.7 L894.9,845.1 L896.5,843.6 L898.0,842.2 L899.5,841.0 L901.0,839.8 L902.5,838.4 L904.0,836.9 L905.6,835.5 L907.1,834.3 L908.6,833.3 L910.2,832.1 L911.8,830.7 L913.4,829.4 L915.0,828.5 L916.6,827.8 L918.2,826.9 L919.8,825.4 L921.4,823.6 L923.0,822.1 L924.6,821.4 L926.3,821.2 L927.9,820.7 L929.5,819.5 L931.1,817.8 L932.8,816.0 L934.4,814.4 L936.0,813.3 L937.6,812.5 L939.2,811.2 L940.8,809.4 L942.4,807.5 L944.0,806.1 L945.6,804.9 L947.2,803.3 L948.8,801.7 L950.4,801.0 L952.0,800.8 L953.6,800.1 L955.2,798.6 L956.7,797.1 L958.3,796.0 L959.9,795.2 L961.5,794.4 L963.1,793.2 L964.6,791.5 L966.2,789.9 L967.8,788.8 L969.3,788.1 L970.9,787.2 L972.5,786.0 L974.0,784.5 L975.5,782.8 L977.1,781.1 L978.6,780.0 L980.2,779.4 L981.7,778.8 L983.2,777.4 L984.8,775.3 L986.3,773.7 L987.8,772.8 L989.4,771.7 L990.9,769.7 L992.4,767.3 L994.0,765.5 L995.5,764.5 L997.0,763.9 L998.6,763.2" stroke="#a6a6a6" stroke-width="7.6"/>
<path d="M998.6,763.2 L1000.1,761.4 L1001.7,759.2 L1003.2,757.5 L1004.8,756.9 L1006.4,756.9 L1007.9,756.5 L1009.5,755.0 L1011.0,752.6 L1012.6,750.0 L1014.2,748.1 L1015.7,747.3 L1017.3,747.0 L1018.9,746.3 L1020.5,744.9 L1022.0,743.5 L1023.6,742.5 L1025.2,741.3 L1026.8,739.6 L1028.4,738.5 L1030.0,737.9 L1031.7,737.0 L1033.3,735.4 L1035.0,734.3 L1036.7,734.4 L1038.4,734.8 L1040.1,734.5 L1041.8,733.2 L1043.6,731.9 L1045.3,731.1 L1047.1,730.7 L1048.8,730.8 L1050.6,730.4 L1052.3,729.0 L1054.1,726.3 L1055.9,723.3 L1057.6,721.1 L1059.4,719.6 L1061.1,718.6 L1062.9,717.7 L1064.6,717.2 L1066.4,716.9 L1068.2,716.5 L1069.9,715.5 L1071.7,713.9 L1073.4,712.3 L1075.2,711.2 L1077.0,710.7 L1078.7,710.8 L1080.5,710.6 L1082.2,709.4 L1084.0,707.5 L1085.7,706.3 L1087.5,705.7 L1089.3,705.4 L1091.0,705.4 L1092.8,705.7 L1094.6,705.1 L1096.3,703.2 L1098.1,701.4 L1099.9,700.1 L1101.6,699.4 L1103.4,699.2 L1105.2,698.9 L1106.9,697.9 L1108.7,696.4 L1110.5,695.2 L1112.3,694.3 L1114.1,693.0 L1115.8,691.1 L1117.6,689.7 L1119.4,688.8 L1121.2,688.3 L1122.9,687.7 L1124.7,686.9 L1126.5,686.1 L1128.3,685.5 L1130.1,684.8 L1131.8,683.8 L1133.6,682.8 L1135.4,681.9 L1137.2,680.4 L1138.9,678.5 L1140.7,677.2 L1142.5,676.4 L1144.3,674.9 L1146.1,672.5 L1147.8,671.2 L1149.6,671.2 L1151.4,671.1 L1153.2,670.4 L1155.0,669.0 L1156.8,668.5 L1158.6,669.3 L1160.4,670.5 L1162.2,670.7 L1164.0,669.4 L1165.8,667.6 L1167.7,665.9 L1169.5,664.1 L1171.3,662.7 L1173.2,661.7 L1175.0,660.8 L1176.9,659.8 L1178.7,659.0 L1180.6,659.1 L1182.5,659.0 L1184.3,658.1 L1186.2,656.6 L1188.0,655.3 L1189.9,654.7 L1191.8,654.1 L1193.6,653.2 L1195.5,652.7 L1197.3,652.4 L1199.2,652.7 L1201.1,652.7 L1202.9,652.1 L1204.8,651.5 L1206.6,651.1 L1208.5,650.8 L1210.4,649.4 L1212.2,647.6 L1214.1,646.9 L1215.9,647.2 L1217.8,647.9 L1219.7,647.8 L1221.5,646.2 L1223.4,643.9 L1225.3,642.8 L1227.1,642.9 L1229.0,642.9 L1230.9,642.2 L1232.7,641.1 L1234.6,639.7 L1236.5,637.9 L1238.3,636.7 L1240.2,636.5 L1242.1,636.0 L1243.9,634.9 L1245.8,633.6 L1247.7,632.4 L1249.6,631.4 L1251.4,631.3 L1253.3,632.0 L1255.2,631.8 L1257.0,630.0 L1258.9,628.2 L1260.8,627.5 L1262.6,627.2 L1264.5,626.6 L1266.4,626.0 L1268.3,625.8 L1270.2,625.9 L1272.0,625.3 L1273.9,624.0 L1275.8,622.7 L1277.7,622.4 L1279.6,622.9 L1281.5,622.8 L1283.4,621.1 L1285.4,619.0 L1287.3,617.1 L1289.2,615.8 L1291.1,615.4 L1293.0,615.8 L1294.9,616.4 L1296.9,616.2 L1298.8,615.3 L1300.7,614.5 L1302.6,614.0 L1304.5,614.4 L1306.5,615.3 L1308.4,616.0 L1310.3,616.2 L1312.2,615.6 L1314.1,613.6 L1316.1,610.2 L1318.0,607.8 L1319.9,608.4 L1321.8,610.4 L1323.7,611.2 L1325.7,610.3 L1327.6,608.5 L1329.5,607.0 L1331.4,605.7 L1333.4,604.9 L1335.3,604.6 L1337.2,604.3 L1339.1,604.1 L1341.1,604.7 L1343.0,604.8 L1344.9,603.1 L1346.8,600.9 L1348.7,600.6 L1350.7,601.7 L1352.6,601.7 L1354.5,601.0 L1356.5,601.4 L1358.4,601.6 L1360.3,601.3 L1362.2,600.4 L1364.2,599.2 L1366.1,597.4 L1368.0,594.9 L1370.0,593.3 L1371.9,593.6 L1373.9,595.7 L1375.8,597.2 L1377.7,596.9 L1379.7,595.5 L1381.6,593.7 L1383.6,591.6 L1385.5,590.0 L1387.5,589.9 L1389.4,590.6 L1391.4,591.9 L1393.3,592.6 L1395.3,592.0 L1397.2,590.7 L1399.1,589.6 L1401.1,589.0 L1403.0,588.2 L1405.0,587.2 L1407.0,586.4 L1408.9,586.2 L1410.9,586.0 L1412.8,585.9 L1414.8,585.4 L1416.8,585.4 L1418.7,586.6 L1420.7,587.6 L1422.7,588.0 L1424.6,588.0 L1426.6,587.8 L1428.6,586.5 L1430.6,583.2 L1432.6,579.9 L1434.5,579.3 L1436.5,581.2 L1438.5,583.3 L1440.5,584.5 L1442.4,584.9 L1444.4,584.7 L1446.4,583.7 L1448.4,581.6 L1450.4,579.9 L1452.3,579.8 L1454.3,580.1 L1456.3,579.8 L1458.3,579.1 L1460.3,578.9 L1462.2,579.6 L1464.2,579.3 L1466.2,577.8 L1468.2,576.9 L1470.2,577.8 L1472.2,579.1 L1474.1,578.4 L1476.1,575.8 L1478.1,574.4 L1480.1,575.8 L1482.1,578.9 L1484.1,581.2 L1486.0,580.8 L1488.0,578.2 L1490.0,575.7 L1492.0,575.1 L1494.0,575.0 L1496.0,574.0 L1498.0,572.7 L1499.9,572.9 L1501.9,574.3 L1503.9,575.4 L1505.9,576.0 L1507.9,576.2 L1509.9,574.9 L1511.9,571.6 L1513.9,568.4 L1515.8,568.1 L1517.8,570.8 L1519.8,573.4 L1521.8,573.3 L1523.8,572.2 L1525.8,572.2 L1527.8,573.2 L1529.8,573.3 L1531.8,572.2 L1533.8,571.2 L1535.8,571.3 L1537.7,571.7 L1539.7,571.2 L1541.7,569.7 L1543.7,568.3 L1545.7,567.5 L1547.7,567.0 L1549.7,567.6 L1551.7,568.7 L1553.7,569.0 L1555.7,568.2 L1557.7,567.3 L1559.7,567.3 L1561.7,568.2 L1563.7,570.9 L1565.7,573.3 L1567.7,572.3 L1569.7,569.3 L1571.7,567.1 L1573.7,566.5 L1575.7,566.1 L1577.7,565.8 L1579.7,565.8 L1581.7,564.9 L1583.7,564.1 L1585.6,565.0 L1587.6,567.2 L1589.6,569.0 L1591.6,568.9 L1593.6,567.7 L1595.6,566.6 L1597.6,566.5 L1599.6,567.0 L1601.6,567.2 L1603.6,566.9 L1605.6,566.5 L1607.6,566.7 L1609.6,567.0 L1611.6,566.7 L1613.6,566.0 L1615.6,566.3 L1617.6,567.8 L1619.6,568.7 L1621.6,567.9 L1623.6,566.4 L1625.6,565.4 L1627.6,565.1 L1629.6,565.0 L1631.6,565.1 L1633.6,565.3 L1635.6,564.6 L1637.6,563.1 L1639.6,562.2 L1641.6,562.6 L1643.6,562.8 L1645.6,562.0 L1647.6,562.1 L1649.6,563.5 L1651.6,564.7 L1653.6,564.4 L1655.6,563.6 L1657.6,563.7 L1659.6,563.6 L1661.6,563.2 L1663.6,563.4 L1665.6,564.3 L1667.6,565.6 L1669.6,565.7 L1671.6,565.0 L1673.6,564.7 L1675.6,564.1 L1677.6,563.4 L1679.6,563.6 L1681.6,565.7 L1683.6,567.1 L1685.6,565.3 L1687.6,562.4 L1689.6,561.3 L1691.6,561.8 L1693.6,561.9 L1695.6,561.1 L1697.6,561.3 L1699.6,562.9 L1701.6,564.3 L1703.6,564.2 L1705.6,563.9 L1707.6,564.6 L1709.6,565.8 L1711.6,565.9 L1713.6,564.7 L1715.5,564.5 L1717.5,566.0 L1719.5,567.3 L1721.5,567.1 L1723.4,566.3 L1725.4,566.8 L1727.4,568.1 L1729.3,567.8 L1731.3,567.2 L1733.3,567.6 L1735.2,568.3 L1737.2,568.6 L1739.1,568.8 L1741.1,570.4 L1743.0,573.3 L1745.0,575.0 L1746.9,574.3 L1748.9,571.3 L1750.8,568.6 L1752.8,567.7 L1754.8,568.5 L1756.7,570.4 L1758.7,572.7 L1760.7,575.1 L1762.7,576.9 L1764.6,577.5 L1766.6,577.2 L1768.6,575.8 L1770.6,574.2 L1772.5,573.6 L1774.5,574.5 L1776.5,576.2 L1778.5,576.8 L1780.5,575.8 L1782.5,574.1 L1784.4,573.1 L1786.4,574.1 L1788.4,576.9 L1790.4,579.8 L1792.4,581.0 L1794.3,580.3 L1796.3,578.9 L1798.3,577.4 L1800.3,576.3 L1802.3,576.8 L1804.3,579.1 L1806.2,581.2 L1808.2,581.8 L1810.2,581.0 L1812.2,580.0 L1814.2,579.8 L1816.1,580.3 L1818.1,580.7 L1820.1,580.4 L1822.1,580.1 L1824.1,580.6 L1826.0,581.7 L1828.0,583.2 L1830.0,584.5 L1832.0,586.0 L1834.0,586.5 L1835.9,586.1 L1837.9,585.0 L1839.9,583.5 L1841.8,582.6 L1843.8,582.2 L1845.8,582.8 L1847.7,584.5 L1849.7,586.9 L1851.6,589.0 L1853.6,590.3 L1855.5,590.6 L1857.5,590.5 L1859.4,590.2 L1861.3,589.7 L1863.3,589.5 L1865.2,590.0 L1867.1,590.3 L1869.0,589.6 L1871.0,588.5 L1872.9,589.1 L1874.8,591.2 L1876.8,592.9 L1878.7,593.6 L1880.6,593.8 L1882.6,593.6 L1884.5,593.3 L1886.5,594.3 L1888.5,596.0 L1890.4,596.6 L1892.4,596.0 L1894.4,595.8 L1896.4,597.2 L1898.4,598.4 L1900.3,598.2 L1902.3,597.3 L1904.3,596.7 L1906.3,596.6 L1908.3,596.4 L1910.3,596.2 L1912.3,596.5 L1914.3,597.5 L1916.3,598.1 L1918.3,598.4 L1920.3,599.1 L1922.3,600.0 L1924.2,600.3 L1926.2,599.6 L1928.2,600.0 L1930.2,601.7 L1932.2,603.2 L1934.1,603.5 L1936.1,603.3 L1938.1,603.3 L1940.1,603.1 L1942.0,602.4 L1944.0,602.4 L1946.0,603.2 L1948.0,603.2 L1949.9,602.5 L1951.9,601.7 L1953.9,601.8 L1955.9,603.1 L1957.9,605.2 L1959.8,606.9 L1961.8,607.7 L1963.8,608.6 L1965.8,609.6 L1967.8,610.2 L1969.8,609.9 L1971.8,609.2 L1973.7,608.4 L1975.7,607.8 L1977.7,607.1 L1979.7,605.9 L1981.7,605.5 L1983.7,607.1 L1985.7,609.4 L1987.7,609.8 L1989.7,608.7 L1991.7,608.3 L1993.6,608.8 L1995.6,609.0 L1997.6,608.8 L1999.6,608.3 L2001.5,608.1 L2003.5,608.4 L2005.4,609.1 L2007.3,610.2 L2009.2,611.3 L2011.1,612.3 L2013.0,612.9 L2014.9,612.5 L2016.8,612.2 L2018.6,612.4 L2020.5,612.8 L2022.4,613.9 L2024.2,615.0 L2026.1,615.9 L2027.9,617.1 L2029.8,618.7 L2031.7,620.1 L2033.5,621.1 L2035.4,622.0 L2037.3,623.3 L2039.2,623.8 L2041.0,623.3 L2042.9,622.7 L2044.8,622.7 L2046.7,623.8 L2048.6,625.2 L2050.5,625.8 L2052.4,625.8 L2054.3,626.3 L2056.2,628.9 L2058.0,632.0 L2059.9,632.5 L2061.8,630.1 L2063.7,627.6 L2065.6,628.0 L2067.5,630.4 L2069.4,632.5 L2071.3,633.4 L2073.2,634.0 L2075.1,635.6 L2077.0,638.1 L2078.9,639.6 L2080.8,639.4 L2082.7,638.2 L2084.6,637.8 L2086.5,639.1 L2088.4,641.0 L2090.3,641.7 L2092.3,640.6 L2094.2,639.4 L2096.1,639.8 L2098.0,640.8 L2100.0,641.2 L2101.9,641.5 L2103.8,642.3 L2105.8,643.3 L2107.7,643.9 L2109.7,644.5 L2111.6,645.3 L2113.6,645.8 L2115.6,645.8 L2117.5,645.5 L2119.5,645.4 L2121.5,645.6 L2123.4,646.2 L2125.4,646.7 L2127.3,647.0 L2129.3,647.5 L2131.3,647.6 L2133.2,647.7 L2135.2,647.9 L2137.1,648.7 L2139.1,649.9 L2141.0,650.1 L2143.0,649.6 L2144.9,650.2 L2146.9,652.0 L2148.8,653.5 L2150.8,654.6 L2152.7,655.8 L2154.7,656.8 L2156.6,656.9 L2158.6,656.0 L2160.5,655.4 L2162.5,654.8 L2164.4,654.5 L2166.4,654.7 L2168.3,655.1 L2170.3,656.3 L2172.2,658.8 L2174.2,661.2 L2176.1,661.8 L2178.0,661.2 L2180.0,661.6 L2181.9,664.1 L2183.9,666.4 L2185.8,667.0 L2187.7,666.0 L2189.7,663.6 L2191.6,661.3 L2193.6,660.5 L2195.5,661.6 L2197.5,663.0 L2199.4,663.9 L2201.4,664.7 L2203.3,665.5 L2205.3,665.7 L2207.3,665.8 L2209.2,666.3 L2211.2,666.9 L2213.2,666.9 L2215.2,666.3 L2217.2,665.4 L2219.2,665.5 L2221.1,666.4 L2223.1,667.1 L2225.1,667.5 L2227.1,667.5 L2229.1,667.9 L2231.1,669.3 L2233.1,671.8 L2235.1,673.6 L2237.1,672.6 L2239.1,669.5 L2241.1,667.4 L2243.0,667.2 L2245.0,667.8 L2247.0,668.2 L2249.0,668.2 L2251.0,668.6 L2253.0,669.6 L2255.0,670.6 L2257.0,670.9 L2259.0,670.4 L2261.0,669.6 L2262.9,668.5 L2264.9,666.9 L2266.9,665.8 L2268.9,665.5 L2270.8,665.3 L2272.8,664.9 L2274.7,664.1 L2276.6,663.9 L2278.5,665.1 L2280.4,667.4 L2282.2,668.8 L2284.1,668.5 L2285.9,667.8 L2287.7,667.4 L2289.5,667.6 L2291.3,668.7 L2293.1,671.5 L2294.9,675.2 L2296.7,677.6 L2298.5,677.5 L2300.3,676.2 L2302.1,676.5 L2303.9,678.4 L2305.6,680.2 L2307.4,681.5 L2309.2,682.7 L2311.0,683.6 L2312.8,683.4 L2314.6,682.4 L2316.4,681.8 L2318.2,682.5 L2320.0,684.0" stroke="#a6a6a6" stroke-width="6.2"/>
<path d="M321.5,1687.0 L322.5,1685.3 L323.5,1683.5 L324.5,1681.8 L325.5,1680.1 L326.6,1678.4 L327.6,1676.6 L328.6,1674.9 L329.6,1673.2 L330.6,1671.5 L331.6,1669.7 L332.6,1668.0 L333.6,1666.3 L334.6,1664.5 L335.7,1662.8 L336.7,1661.1 L337.7,1659.4 L338.7,1657.6 L339.7,1655.9 L340.7,1654.2 L341.7,1652.5 L342.7,1650.7 L343.7,1649.0 L344.8,1647.3 L345.8,1645.6 L346.8,1643.8 L347.8,1642.1 L348.8,1640.4 L349.8,1638.6 L350.8,1636.9 L351.8,1635.2 L352.9,1633.5 L353.9,1631.7 L354.9,1630.0 L355.9,1628.3 L356.9,1626.6 L357.9,1624.8 L358.9,1623.1 L359.9,1621.4 L360.9,1619.6 L362.0,1617.9 L363.0,1616.2 L364.0,1614.5 L365.0,1612.7 L366.0,1611.0 L367.0,1609.3 L368.0,1607.6 L369.0,1605.8 L370.0,1604.1 L371.1,1602.4 L372.1,1600.7 L373.1,1598.9 L374.1,1597.2 L375.1,1595.5 L376.1,1593.8 L377.2,1592.0 L378.2,1590.3 L379.2,1588.6 L380.3,1586.9 L381.3,1585.2 L382.3,1583.5 L383.4,1581.8 L384.4,1580.1 L385.5,1578.4 L386.5,1576.6 L387.6,1574.9 L388.6,1573.2 L389.7,1571.5 L390.7,1569.8 L391.8,1568.1 L392.8,1566.4 L393.9,1564.7 L394.9,1563.0 L396.0,1561.3 L397.0,1559.6 L398.1,1557.9 L399.1,1556.2 L400.2,1554.5 L401.2,1552.8 L402.3,1551.1 L403.3,1549.4 L404.4,1547.7 L405.4,1546.0 L406.4,1544.3 L407.5,1542.6 L408.5,1540.9 L409.6,1539.1 L410.6,1537.4 L411.7,1535.7 L412.7,1534.0 L413.8,1532.3 L414.8,1530.6 L415.9,1528.9 L416.9,1527.2 L418.0,1525.5 L419.0,1523.8 L420.1,1522.1 L421.1,1520.4 L422.2,1518.7 L423.2,1517.0 L424.3,1515.3 L425.3,1513.6 L426.4,1511.9 L427.4,1510.2 L428.5,1508.5 L429.5,1506.8 L430.6,1505.1 L431.6,1503.4 L432.7,1501.7 L433.7,1499.9 L434.8,1498.2 L435.8,1496.5 L436.9,1494.8 L437.9,1493.1 L439.0,1491.4 L440.0,1489.7 L441.0,1488.0 L442.1,1486.3 L443.1,1484.6 L444.1,1482.9 L445.1,1481.1 L446.1,1479.4 L447.1,1477.7 L448.1,1475.9 L449.1,1474.2 L450.1,1472.4 L451.1,1470.7 L452.1,1469.0 L453.0,1467.2 L454.0,1465.4 L455.0,1463.7 L455.9,1461.9 L456.9,1460.2 L457.9,1458.4 L458.8,1456.7 L459.8,1454.9 L460.8,1453.2 L461.7,1451.4 L462.7,1449.7 L463.6,1447.9 L464.6,1446.2 L465.6,1444.4 L466.5,1442.7 L467.5,1440.9 L468.5,1439.1 L469.4,1437.4 L470.4,1435.6 L471.4,1433.9 L472.3,1432.1 L473.3,1430.4 L474.3,1428.6 L475.2,1426.9 L476.2,1425.1 L477.2,1423.4 L478.1,1421.6 L479.1,1419.9 L480.0,1418.1 L481.0,1416.3 L482.0,1414.6 L482.9,1412.8 L483.9,1411.1 L484.9,1409.3 L485.8,1407.6 L486.8,1405.8 L487.8,1404.1 L488.7,1402.3 L489.7,1400.6 L490.7,1398.8 L491.6,1397.1 L492.6,1395.3 L493.5,1393.6 L494.5,1391.8 L495.5,1390.0 L496.4,1388.3 L497.4,1386.5 L498.4,1384.8 L499.3,1383.0 L500.3,1381.3 L501.3,1379.5 L502.2,1377.8 L503.2,1376.0 L504.2,1374.3 L505.1,1372.5 L506.1,1370.8 L507.1,1369.0 L508.0,1367.3 L509.0,1365.5 L510.0,1363.8 L511.0,1362.0 L512.0,1360.3 L513.0,1358.6 L514.0,1356.8 L515.0,1355.1 L516.0,1353.4 L517.1,1351.7 L518.1,1350.0 L519.1,1348.2 L520.1,1346.5 L521.2,1344.8 L522.2,1343.1 L523.2,1341.4 L524.3,1339.7 L525.3,1338.0 L526.4,1336.2 L527.4,1334.5 L528.4,1332.8 L529.5,1331.1 L530.5,1329.4 L531.5,1327.7 L532.6,1326.0 L533.6,1324.3 L534.6,1322.5 L535.7,1320.8 L536.7,1319.1 L537.7,1317.4 L538.8,1315.7 L539.8,1314.0 L540.8,1312.3 L541.9,1310.6 L542.9,1308.8 L543.9,1307.1 L545.0,1305.4 L546.0,1303.7 L547.1,1302.0 L548.1,1300.3 L549.1,1298.6 L550.2,1296.8 L551.2,1295.1 L552.2,1293.4 L553.3,1291.7 L554.3,1290.0 L555.3,1288.3 L556.4,1286.6 L557.4,1284.9 L558.4,1283.1 L559.5,1281.4 L560.5,1279.7 L561.5,1278.0 L562.6,1276.3 L563.6,1274.6 L564.6,1272.9 L565.7,1271.2 L566.7,1269.4 L567.7,1267.7 L568.8,1266.0 L569.8,1264.3 L570.9,1262.6 L571.9,1260.9 L572.9,1259.2 L574.0,1257.4 L575.0,1255.7 L576.0,1254.0 L577.1,1252.3 L578.1,1250.6 L579.1,1248.9 L580.2,1247.2 L581.2,1245.5 L582.2,1243.7 L583.3,1242.0 L584.3,1240.3 L585.3,1238.6 L586.4,1236.9 L587.4,1235.2 L588.4,1233.5 L589.5,1231.7 L590.5,1230.0 L591.5,1228.3 L592.6,1226.6 L593.6,1224.9 L594.6,1223.2 L595.7,1221.5 L596.7,1219.7 L597.7,1218.0 L598.8,1216.3 L599.8,1214.6 L600.8,1212.9 L601.9,1211.2 L602.9,1209.5 L603.9,1207.7 L605.0,1206.0 L606.0,1204.3 L607.0,1202.6 L608.1,1200.9 L609.1,1199.2 L610.2,1197.5 L611.2,1195.8 L612.2,1194.1 L613.3,1192.4 L614.3,1190.6 L615.4,1188.9 L616.4,1187.2 L617.5,1185.5 L618.5,1183.8 L619.6,1182.1 L620.6,1180.4 L621.7,1178.7 L622.7,1177.0 L623.8,1175.3 L624.9,1173.6 L625.9,1171.9 L627.0,1170.2 L628.0,1168.5 L629.1,1166.8 L630.1,1165.1 L631.2,1163.4 L632.2,1161.7 L633.3,1160.0 L634.4,1158.3 L635.4,1156.6 L636.5,1154.9 L637.6,1153.2 L638.6,1151.6 L639.7,1149.9 L640.8,1148.2 L641.9,1146.5 L643.0,1144.8 L644.0,1143.1 L645.1,1141.5 L646.2,1139.8 L647.3,1138.1 L648.4,1136.4 L649.5,1134.7 L650.6,1133.0 L651.6,1131.4 L652.7,1129.7 L653.8,1128.0 L654.9,1126.3 L656.0,1124.6 L657.1,1123.0 L658.2,1121.3 L659.3,1119.6 L660.3,1117.9 L661.4,1116.2 L662.5,1114.6 L663.6,1112.9 L664.7,1111.2 L665.8,1109.5 L666.9,1107.8 L668.0,1106.2 L669.0,1104.5 L670.1,1102.8 L671.2,1101.1 L672.3,1099.4 L673.4,1097.8 L674.5,1096.1 L675.6,1094.4 L676.7,1092.7 L677.8,1091.1 L678.9,1089.4 L680.0,1087.7 L681.1,1086.1 L682.3,1084.4 L683.4,1082.8 L684.5,1081.1 L685.7,1079.5 L686.8,1077.9 L688.0,1076.2 L689.1,1074.6 L690.3,1073.0 L691.5,1071.3 L692.6,1069.7 L693.8,1068.1 L695.0,1066.5 L696.1,1064.8 L697.3,1063.2 L698.5,1061.6 L699.6,1060.0 L700.8,1058.3 L702.0,1056.7 L703.1,1055.1 L704.3,1053.5 L705.5,1051.8 L706.7,1050.2 L707.8,1048.6 L709.0,1047.0 L710.2,1045.4 L711.4,1043.7 L712.5,1042.1 L713.7,1040.5 L714.9,1038.9 L716.1,1037.3 L717.3,1035.7 L718.4,1034.0 L719.6,1032.4 L720.8,1030.8 L722.0,1029.2 L723.1,1027.6 L724.3,1025.9 L725.5,1024.3 L726.7,1022.7 L727.9,1021.1 L729.0,1019.5 L730.2,1017.9 L731.4,1016.3 L732.6,1014.7 L733.8,1013.1 L735.0,1011.5 L736.2,1009.9 L737.4,1008.3 L738.7,1006.7 L739.9,1005.1 L741.1,1003.5 L742.3,1001.9 L743.5,1000.3 L744.8,998.8 L746.0,997.2 L747.2,995.6 L748.4,994.0 L749.7,992.4 L750.9,990.8 L752.1,989.3 L753.4,987.7 L754.6,986.1 L755.8,984.5 L757.0,982.9 L758.3,981.4 L759.5,979.8 L760.7,978.2 L762.0,976.6 L763.2,975.0 L764.4,973.5 L765.6,971.9 L766.9,970.3 L768.1,968.7 L769.3,967.2 L770.6,965.6 L771.8,964.0 L773.0,962.4 L774.2,960.8 L775.5,959.3 L776.7,957.7 L777.9,956.1 L779.2,954.5 L780.4,952.9 L781.6,951.4 L782.9,949.8 L784.1,948.2 L785.4,946.7 L786.6,945.1 L787.9,943.6 L789.2,942.1 L790.5,940.5 L791.8,939.0 L793.1,937.5 L794.5,936.0 L795.8,934.6 L797.2,933.1 L798.5,931.6 L799.9,930.1 L801.2,928.7 L802.6,927.2 L804.0,925.7 L805.3,924.3 L806.7,922.9 L808.1,921.4 L809.5,920.0 L810.8,918.5 L812.2,917.1 L813.6,915.7 L815.0,914.3 L816.4,912.8 L817.8,911.3 L819.2,909.7 L820.6,908.2 L821.9,906.8 L823.3,905.4 L824.7,904.1 L826.1,902.7 L827.5,901.1 L828.9,899.6 L830.3,898.1 L831.7,896.8 L833.1,895.4 L834.4,893.8 L835.8,892.2 L837.2,890.9 L838.6,889.8 L840.0,888.4 L841.3,886.8 L842.7,885.1 L844.0,883.4 L845.4,881.8 L846.7,880.3 L848.0,879.0 L849.3,877.6 L850.7,876.1 L852.0,874.5 L853.3,872.8 L854.6,871.2 L855.9,869.6 L857.2,868.1 L858.5,866.6 L859.9,865.3 L861.2,864.0 L862.6,862.8 L864.0,861.6 L865.4,860.1 L866.8,858.6 L868.2,857.0 L869.6,855.5 L871.0,854.3 L872.4,853.0 L873.8,851.5 L875.3,850.1 L876.7,848.8 L878.1,847.7 L879.6,846.3 L881.0,844.5 L882.5,842.9 L883.9,841.6 L885.4,840.3 L886.9,838.9 L888.3,837.1 L889.8,835.7 L891.3,834.5 L892.7,833.5 L894.2,832.3 L895.7,830.9 L897.2,829.4 L898.6,828.2 L900.1,827.2 L901.6,826.1 L903.0,824.6 L904.5,822.9 L906.0,821.4 L907.5,819.9 L909.0,818.2 L910.5,816.6 L912.0,815.4 L913.5,814.3 L915.1,813.0 L916.6,811.6 L918.2,810.4 L919.8,809.3 L921.4,808.3 L923.0,807.6 L924.6,806.6 L926.2,805.2 L927.9,804.1 L929.5,803.1 L931.1,801.8 L932.8,800.4 L934.4,799.4 L936.1,798.7 L937.7,797.1 L939.4,795.0 L941.0,793.4 L942.7,792.6 L944.3,792.2 L946.0,791.8 L947.6,791.1 L949.2,789.8 L950.8,788.1 L952.4,786.7 L954.0,785.7 L955.6,784.6 L957.2,783.3 L958.7,781.7 L960.3,779.7 L961.8,778.0 L963.4,777.3 L964.9,777.0 L966.4,776.6 L968.0,775.8 L969.5,774.3 L971.1,772.2 L972.6,769.8 L974.2,768.1 L975.7,767.0 L977.2,766.1 L978.8,764.9 L980.3,763.0 L981.9,761.5 L983.4,761.1 L984.9,761.0 L986.5,759.9 L988.0,758.0 L989.6,755.7 L991.1,753.7 L992.6,753.0 L994.2,752.8 L995.7,752.3 L997.3,750.8 L998.8,748.6" stroke="#000" stroke-width="6.0"/>
<path d="M998.8,748.6 L1000.3,746.8 L1001.9,746.0 L1003.4,746.1 L1005.0,746.1 L1006.5,745.2 L1008.1,743.8 L1009.6,741.9 L1011.2,739.8 L1012.8,737.8 L1014.3,736.3 L1015.9,734.9 L1017.5,733.1 L1019.1,731.3 L1020.7,730.1 L1022.3,729.2 L1023.9,727.9 L1025.5,726.3 L1027.1,725.3 L1028.8,724.9 L1030.4,724.8 L1032.0,724.3 L1033.6,723.0 L1035.2,721.2 L1036.8,719.0 L1038.4,717.0 L1040.1,715.8 L1041.7,715.5 L1043.3,715.1 L1044.9,713.4 L1046.5,710.8 L1048.1,708.6 L1049.7,707.3 L1051.4,706.4 L1053.0,705.1 L1054.6,703.7 L1056.2,703.2 L1057.8,703.6 L1059.4,703.6 L1061.1,702.8 L1062.7,701.4 L1064.3,699.8 L1066.0,698.2 L1067.6,697.2 L1069.3,696.4 L1070.9,695.2 L1072.6,693.6 L1074.3,692.1 L1076.0,690.8 L1077.7,689.4 L1079.4,687.8 L1081.1,685.5 L1082.8,683.5 L1084.5,682.6 L1086.2,683.3 L1087.9,684.1 L1089.6,683.4 L1091.3,681.9 L1093.0,680.2 L1094.7,679.6 L1096.4,680.2 L1098.2,681.1 L1099.9,681.1 L1101.6,679.2 L1103.3,676.2 L1105.0,673.5 L1106.7,671.7 L1108.4,671.0 L1110.1,670.9 L1111.8,670.4 L1113.5,668.7 L1115.3,666.3 L1117.0,664.7 L1118.7,664.6 L1120.4,665.0 L1122.1,664.7 L1123.8,664.1 L1125.5,663.6 L1127.2,661.9 L1128.9,658.6 L1130.6,656.0 L1132.3,656.1 L1134.0,657.1 L1135.7,657.0 L1137.4,656.0 L1139.1,654.2 L1140.8,651.7 L1142.5,649.6 L1144.2,648.7 L1145.8,648.8 L1147.5,648.6 L1149.2,647.5 L1150.9,645.6 L1152.6,643.9 L1154.3,642.1 L1156.0,639.4 L1157.7,636.6 L1159.4,635.6 L1161.1,636.2 L1162.8,635.3 L1164.5,633.3 L1166.2,632.9 L1168.0,634.6 L1169.7,635.8 L1171.4,634.3 L1173.2,631.7 L1174.9,630.0 L1176.7,629.8 L1178.5,629.8 L1180.3,629.3 L1182.1,629.4 L1183.9,629.8 L1185.7,630.3 L1187.5,630.0 L1189.3,628.6 L1191.1,627.3 L1192.9,626.0 L1194.8,624.9 L1196.6,623.9 L1198.4,622.0 L1200.2,620.5 L1202.0,619.5 L1203.8,618.7 L1205.6,617.2 L1207.4,615.0 L1209.3,614.1 L1211.1,614.5 L1212.9,615.3 L1214.7,615.2 L1216.5,614.2 L1218.3,613.0 L1220.1,612.0 L1221.9,611.6 L1223.7,610.6 L1225.6,609.3 L1227.4,607.7 L1229.2,606.3 L1231.0,605.8 L1232.8,605.6 L1234.6,605.6 L1236.4,604.7 L1238.2,603.4 L1240.0,602.2 L1241.8,600.4 L1243.6,598.3 L1245.5,596.9 L1247.3,596.3 L1249.1,596.4 L1250.9,596.3 L1252.7,594.8 L1254.5,592.9 L1256.3,591.1 L1258.1,590.7 L1259.9,591.8 L1261.7,592.2 L1263.6,590.5 L1265.4,588.1 L1267.2,586.6 L1269.0,586.3 L1270.8,585.5 L1272.7,584.8 L1274.5,584.8 L1276.3,584.6 L1278.2,582.9 L1280.0,580.2 L1281.8,577.9 L1283.7,576.5 L1285.5,576.5 L1287.4,577.5 L1289.2,578.4 L1291.1,578.8 L1292.9,579.1 L1294.8,579.6 L1296.6,578.6 L1298.5,575.8 L1300.3,573.0 L1302.2,571.5 L1304.0,571.2 L1305.9,571.1 L1307.7,570.5 L1309.6,569.2 L1311.4,568.0 L1313.3,566.9 L1315.1,565.3 L1317.0,563.1 L1318.9,560.6 L1320.7,558.8 L1322.6,558.2 L1324.4,558.7 L1326.3,560.1 L1328.1,561.6 L1330.0,562.2 L1331.9,561.1 L1333.7,558.9 L1335.6,556.9 L1337.5,556.6 L1339.3,557.8 L1341.2,559.8 L1343.1,560.6 L1345.0,558.8 L1346.9,555.7 L1348.8,553.6 L1350.7,553.5 L1352.6,554.3 L1354.5,554.9 L1356.4,555.1 L1358.3,554.5 L1360.3,552.5 L1362.2,550.2 L1364.1,548.8 L1366.1,548.5 L1368.1,548.6 L1370.0,548.6 L1372.0,548.6 L1374.0,548.0 L1376.0,547.2 L1377.9,547.2 L1379.9,548.3 L1381.9,549.6 L1383.9,549.5 L1385.8,547.3 L1387.8,544.6 L1389.8,543.5 L1391.8,544.3 L1393.7,545.8 L1395.7,546.1 L1397.7,545.3 L1399.7,544.3 L1401.6,543.5 L1403.6,543.3 L1405.6,542.7 L1407.6,541.5 L1409.5,540.7 L1411.5,540.8 L1413.5,541.4 L1415.4,541.4 L1417.4,540.0 L1419.4,538.4 L1421.3,537.7 L1423.3,538.0 L1425.3,538.6 L1427.2,538.6 L1429.2,538.4 L1431.2,538.3 L1433.1,538.0 L1435.1,537.7 L1437.1,537.4 L1439.1,537.1 L1441.0,537.3 L1443.0,538.1 L1445.0,538.3 L1446.9,537.2 L1448.9,535.3 L1450.9,533.6 L1452.9,532.3 L1454.9,531.9 L1456.9,533.2 L1458.9,535.1 L1460.8,535.4 L1462.8,534.1 L1464.8,532.9 L1466.8,532.8 L1468.8,533.7 L1470.8,534.3 L1472.8,534.2 L1474.8,533.5 L1476.8,532.4 L1478.8,530.9 L1480.8,529.6 L1482.8,529.7 L1484.8,531.2 L1486.7,533.1 L1488.7,534.9 L1490.7,536.0 L1492.7,535.9 L1494.7,534.4 L1496.7,532.2 L1498.7,529.4 L1500.6,526.3 L1502.6,524.6 L1504.6,526.0 L1506.5,528.6 L1508.4,529.1 L1510.4,527.8 L1512.3,527.1 L1514.2,527.6 L1516.1,527.8 L1518.1,526.0 L1520.0,523.4 L1521.9,521.4 L1523.8,520.8 L1525.8,521.4 L1527.7,521.8 L1529.6,521.8 L1531.6,521.2 L1533.5,520.4 L1535.5,519.7 L1537.4,518.8 L1539.4,518.4 L1541.4,518.9 L1543.3,520.7 L1545.3,522.0 L1547.2,522.0 L1549.2,521.1 L1551.2,520.3 L1553.2,520.0 L1555.2,519.5 L1557.1,518.8 L1559.1,517.7 L1561.1,516.9 L1563.1,517.0 L1565.1,517.5 L1567.1,517.9 L1569.1,517.6 L1571.1,517.2 L1573.1,517.3 L1575.1,518.0 L1577.1,519.4 L1579.1,520.2 L1581.1,519.8 L1583.1,519.3 L1585.1,519.6 L1587.1,520.5 L1589.1,521.4 L1591.1,522.0 L1593.1,522.4 L1595.1,522.9 L1597.1,522.5 L1599.1,520.6 L1601.0,518.5 L1603.0,518.0 L1605.0,519.6 L1607.0,521.8 L1609.0,523.3 L1611.0,523.6 L1613.0,522.6 L1615.0,521.2 L1617.0,520.4 L1619.0,520.0 L1621.0,520.0 L1623.0,520.9 L1625.0,521.7 L1627.0,521.6 L1629.0,521.1 L1631.0,520.8 L1633.0,520.8 L1635.0,521.1 L1637.0,522.3 L1639.0,524.2 L1641.0,524.8 L1643.0,523.6 L1645.0,522.8 L1647.0,523.1 L1649.0,523.0 L1651.0,521.8 L1653.0,521.0 L1655.0,521.0 L1657.0,519.9 L1659.0,517.9 L1661.0,517.4 L1663.0,519.1 L1665.0,521.9 L1667.0,524.1 L1669.0,524.8 L1671.0,523.8 L1673.0,522.0 L1674.9,521.0 L1676.9,520.8 L1678.9,520.7 L1680.9,520.1 L1682.9,519.9 L1684.9,520.5 L1686.9,520.9 L1688.8,520.3 L1690.8,518.7 L1692.8,517.2 L1694.7,516.9 L1696.7,517.4 L1698.6,517.4 L1700.6,516.6 L1702.5,516.7 L1704.5,517.4 L1706.4,517.3 L1708.4,516.2 L1710.3,515.1 L1712.3,515.3 L1714.2,516.0 L1716.2,516.5 L1718.1,516.0 L1720.1,514.8 L1722.1,513.9 L1724.0,513.8 L1726.0,513.4 L1728.0,512.2 L1730.0,511.7 L1732.0,512.5 L1733.9,513.4 L1735.9,512.9 L1737.9,511.6 L1739.9,510.9 L1741.9,510.0 L1743.9,509.0 L1745.9,508.4 L1747.9,508.4 L1749.9,509.0 L1751.9,509.9 L1753.9,510.6 L1755.9,509.8 L1757.9,507.6 L1759.9,505.8 L1761.9,505.5 L1763.9,506.1 L1765.9,506.3 L1767.9,506.1 L1769.9,506.5 L1771.9,507.4 L1773.9,508.2 L1775.9,508.6 L1777.9,508.8 L1779.9,508.9 L1781.9,508.5 L1783.9,508.3 L1785.9,509.2 L1787.9,510.3 L1789.9,511.2 L1791.9,510.9 L1793.9,510.0 L1795.9,509.6 L1797.9,509.2 L1799.9,508.8 L1801.9,508.5 L1803.9,508.9 L1805.9,509.6 L1807.9,510.9 L1809.8,512.6 L1811.8,513.5 L1813.8,512.8 L1815.8,511.2 L1817.8,510.0 L1819.8,509.2 L1821.8,508.7 L1823.8,508.4 L1825.8,507.9 L1827.8,507.8 L1829.8,509.3 L1831.8,511.5 L1833.7,512.2 L1835.7,511.7 L1837.7,511.5 L1839.7,511.8 L1841.7,512.7 L1843.6,514.1 L1845.6,515.9 L1847.5,516.7 L1849.5,515.8 L1851.4,515.0 L1853.3,515.2 L1855.2,515.8 L1857.2,516.8 L1859.1,517.9 L1861.0,518.9 L1862.8,519.7 L1864.7,520.8 L1866.6,521.6 L1868.5,521.1 L1870.4,519.9 L1872.3,520.1 L1874.2,521.7 L1876.1,523.1 L1878.0,523.7 L1879.9,523.4 L1881.8,522.8 L1883.7,523.1 L1885.6,525.1 L1887.5,527.5 L1889.4,527.7 L1891.3,526.6 L1893.2,526.3 L1895.1,527.3 L1897.0,528.9 L1898.9,530.3 L1900.9,531.8 L1902.8,532.8 L1904.7,532.5 L1906.6,532.5 L1908.5,533.2 L1910.4,533.8 L1912.4,534.0 L1914.3,534.2 L1916.2,535.3 L1918.2,536.9 L1920.1,537.8 L1922.0,538.3 L1924.0,538.8 L1925.9,540.0 L1927.9,541.0 L1929.8,539.9 L1931.8,538.4 L1933.7,538.5 L1935.7,540.3 L1937.7,541.8 L1939.6,541.5 L1941.6,540.8 L1943.6,540.5 L1945.5,541.2 L1947.5,541.7 L1949.5,540.9 L1951.4,539.8 L1953.4,540.4 L1955.4,542.8 L1957.4,545.0 L1959.3,545.4 L1961.3,544.7 L1963.3,543.6 L1965.3,542.5 L1967.3,541.6 L1969.3,541.6 L1971.3,542.1 L1973.3,542.2 L1975.3,542.0 L1977.3,541.7 L1979.3,541.5 L1981.3,541.5 L1983.3,542.0 L1985.3,543.0 L1987.3,544.2 L1989.3,545.4 L1991.3,546.5 L1993.3,547.5 L1995.2,547.9 L1997.2,547.0 L1999.2,546.1 L2001.2,546.0 L2003.2,545.8 L2005.1,545.3 L2007.1,545.7 L2009.1,547.2 L2011.0,548.5 L2013.0,548.5 L2015.0,548.2 L2016.9,549.0 L2018.9,550.6 L2020.9,552.0 L2022.9,552.3 L2024.8,551.9 L2026.8,551.9 L2028.8,551.8 L2030.7,550.7 L2032.7,548.8 L2034.7,547.9 L2036.6,548.5 L2038.6,550.0 L2040.6,551.5 L2042.6,551.2 L2044.5,549.6 L2046.5,548.6 L2048.5,549.6 L2050.5,552.3 L2052.4,554.2 L2054.4,554.3 L2056.4,553.3 L2058.4,552.7 L2060.4,552.6 L2062.3,552.9 L2064.3,553.8 L2066.3,556.1 L2068.3,558.8 L2070.3,559.0 L2072.3,556.8 L2074.2,553.9 L2076.2,552.7 L2078.2,553.7 L2080.2,555.4 L2082.2,557.4 L2084.2,559.2 L2086.2,560.2 L2088.2,559.3 L2090.2,557.0 L2092.2,555.5 L2094.2,555.9 L2096.1,556.5 L2098.1,556.5 L2100.1,557.2 L2102.0,559.4 L2104.0,561.4 L2105.9,561.4 L2107.8,560.5 L2109.8,559.8 L2111.7,559.5 L2113.6,559.6 L2115.5,561.3 L2117.4,563.7 L2119.4,564.8 L2121.3,564.4 L2123.2,563.6 L2125.1,564.2 L2127.0,566.6 L2128.9,568.8 L2130.8,570.5 L2132.8,571.4 L2134.7,572.3 L2136.6,573.0 L2138.5,572.0 L2140.4,570.1 L2142.3,569.3 L2144.3,570.7 L2146.2,573.1 L2148.1,573.9 L2150.0,572.7 L2151.9,571.9 L2153.9,572.7 L2155.8,574.8 L2157.7,576.3 L2159.7,576.5 L2161.6,576.4 L2163.5,576.7 L2165.4,577.5 L2167.4,578.2 L2169.3,579.6 L2171.2,580.4 L2173.2,579.3 L2175.1,577.4 L2177.0,576.9 L2179.0,578.1 L2180.9,579.5 L2182.8,580.4 L2184.7,581.4 L2186.7,582.8 L2188.6,583.7 L2190.5,584.5 L2192.4,585.2 L2194.4,585.3 L2196.3,585.0 L2198.2,585.6 L2200.1,587.7 L2202.0,590.3 L2204.0,592.0 L2205.9,592.3 L2207.8,591.5 L2209.7,589.5 L2211.6,587.2 L2213.5,586.0 L2215.3,586.1 L2217.2,587.8 L2219.0,590.6 L2220.8,593.1 L2222.6,594.6 L2224.4,595.0 L2226.1,596.1 L2227.8,597.7 L2229.5,598.4 L2231.2,598.8 L2232.9,599.4 L2234.5,600.1 L2236.1,600.1 L2237.8,600.4 L2239.4,601.9 L2241.1,604.2 L2242.7,606.4 L2244.3,608.2 L2246.0,609.3 L2247.7,609.3 L2249.4,609.7 L2251.0,611.8 L2252.7,614.8 L2254.5,616.7 L2256.2,617.5 L2257.9,618.1 L2259.6,619.1 L2261.4,620.2 L2263.2,620.5 L2264.9,620.2 L2266.7,620.6 L2268.5,622.5 L2270.3,624.6 L2272.1,624.7 L2273.9,624.4 L2275.7,626.1 L2277.6,629.3 L2279.4,631.5 L2281.3,630.8 L2283.2,628.5 L2285.2,627.0 L2287.1,627.3 L2289.1,629.1 L2291.0,630.3 L2293.0,630.6 L2295.0,631.1 L2297.0,631.1 L2299.0,630.1 L2301.0,628.3 L2303.0,626.7 L2305.0,626.1 L2307.0,626.3 L2309.0,627.6 L2311.0,629.5 L2313.0,631.5 L2315.0,632.7 L2317.0,631.9 L2319.0,629.5 L2321.0,628.5" stroke="#000" stroke-width="5.7"/>
<path d="M322.4,1684.0 L323.4,1682.3 L324.4,1680.5 L325.4,1678.8 L326.4,1677.1 L327.4,1675.3 L328.4,1673.6 L329.4,1671.9 L330.4,1670.1 L331.4,1668.4 L332.4,1666.7 L333.4,1664.9 L334.4,1663.2 L335.4,1661.5 L336.4,1659.7 L337.4,1658.0 L338.4,1656.3 L339.4,1654.5 L340.4,1652.8 L341.4,1651.1 L342.4,1649.3 L343.4,1647.6 L344.4,1645.9 L345.4,1644.1 L346.4,1642.4 L347.4,1640.7 L348.4,1638.9 L349.4,1637.2 L350.4,1635.5 L351.4,1633.8 L352.4,1632.0 L353.4,1630.3 L354.4,1628.6 L355.4,1626.8 L356.4,1625.1 L357.4,1623.4 L358.4,1621.6 L359.4,1619.9 L360.4,1618.2 L361.4,1616.4 L362.4,1614.7 L363.4,1613.0 L364.4,1611.2 L365.4,1609.5 L366.4,1607.8 L367.4,1606.0 L368.4,1604.3 L369.4,1602.6 L370.4,1600.8 L371.4,1599.1 L372.4,1597.4 L373.4,1595.6 L374.4,1593.9 L375.4,1592.2 L376.4,1590.5 L377.5,1588.7 L378.5,1587.0 L379.5,1585.3 L380.5,1583.6 L381.5,1581.8 L382.5,1580.1 L383.6,1578.4 L384.6,1576.7 L385.6,1575.0 L386.6,1573.2 L387.7,1571.5 L388.7,1569.8 L389.7,1568.1 L390.7,1566.4 L391.8,1564.7 L392.8,1562.9 L393.8,1561.2 L394.8,1559.5 L395.9,1557.8 L396.9,1556.1 L397.9,1554.3 L398.9,1552.6 L400.0,1550.9 L401.0,1549.2 L402.0,1547.5 L403.0,1545.8 L404.1,1544.0 L405.1,1542.3 L406.1,1540.6 L407.1,1538.9 L408.2,1537.2 L409.2,1535.4 L410.2,1533.7 L411.2,1532.0 L412.3,1530.3 L413.3,1528.6 L414.3,1526.8 L415.3,1525.1 L416.4,1523.4 L417.4,1521.7 L418.4,1520.0 L419.4,1518.3 L420.5,1516.5 L421.5,1514.8 L422.5,1513.1 L423.5,1511.4 L424.6,1509.7 L425.6,1507.9 L426.6,1506.2 L427.6,1504.5 L428.7,1502.8 L429.7,1501.1 L430.7,1499.4 L431.7,1497.6 L432.8,1495.9 L433.8,1494.2 L434.8,1492.5 L435.8,1490.8 L436.8,1489.0 L437.9,1487.3 L438.9,1485.6 L439.9,1483.9 L440.9,1482.1 L441.9,1480.4 L442.9,1478.6 L443.8,1476.9 L444.8,1475.2 L445.8,1473.4 L446.8,1471.7 L447.7,1469.9 L448.7,1468.2 L449.6,1466.4 L450.6,1464.6 L451.6,1462.9 L452.5,1461.1 L453.5,1459.4 L454.4,1457.6 L455.4,1455.9 L456.3,1454.1 L457.3,1452.3 L458.2,1450.6 L459.2,1448.8 L460.2,1447.1 L461.1,1445.3 L462.1,1443.6 L463.0,1441.8 L464.0,1440.0 L464.9,1438.3 L465.9,1436.5 L466.8,1434.8 L467.8,1433.0 L468.8,1431.2 L469.7,1429.5 L470.7,1427.7 L471.6,1426.0 L472.6,1424.2 L473.5,1422.5 L474.5,1420.7 L475.4,1418.9 L476.4,1417.2 L477.4,1415.4 L478.3,1413.7 L479.3,1411.9 L480.2,1410.2 L481.2,1408.4 L482.1,1406.6 L483.1,1404.9 L484.1,1403.1 L485.0,1401.4 L486.0,1399.6 L486.9,1397.9 L487.9,1396.1 L488.8,1394.3 L489.8,1392.6 L490.7,1390.8 L491.7,1389.1 L492.7,1387.3 L493.6,1385.5 L494.6,1383.8 L495.5,1382.0 L496.5,1380.3 L497.4,1378.5 L498.4,1376.8 L499.3,1375.0 L500.3,1373.2 L501.3,1371.5 L502.2,1369.7 L503.2,1368.0 L504.2,1366.2 L505.1,1364.5 L506.1,1362.7 L507.1,1361.0 L508.1,1359.3 L509.1,1357.5 L510.1,1355.8 L511.1,1354.1 L512.1,1352.4 L513.1,1350.6 L514.2,1348.9 L515.2,1347.2 L516.2,1345.5 L517.2,1343.8 L518.3,1342.0 L519.3,1340.3 L520.3,1338.6 L521.4,1336.9 L522.4,1335.2 L523.4,1333.5 L524.5,1331.8 L525.5,1330.0 L526.5,1328.3 L527.5,1326.6 L528.6,1324.9 L529.6,1323.2 L530.6,1321.5 L531.7,1319.7 L532.7,1318.0 L533.7,1316.3 L534.8,1314.6 L535.8,1312.9 L536.8,1311.2 L537.8,1309.5 L538.9,1307.7 L539.9,1306.0 L540.9,1304.3 L542.0,1302.6 L543.0,1300.9 L544.0,1299.2 L545.1,1297.4 L546.1,1295.7 L547.1,1294.0 L548.1,1292.3 L549.2,1290.6 L550.2,1288.9 L551.2,1287.2 L552.3,1285.4 L553.3,1283.7 L554.3,1282.0 L555.4,1280.3 L556.4,1278.6 L557.4,1276.9 L558.4,1275.2 L559.5,1273.4 L560.5,1271.7 L561.5,1270.0 L562.6,1268.3 L563.6,1266.6 L564.6,1264.9 L565.7,1263.1 L566.7,1261.4 L567.7,1259.7 L568.7,1258.0 L569.8,1256.3 L570.8,1254.6 L571.8,1252.8 L572.9,1251.1 L573.9,1249.4 L574.9,1247.7 L575.9,1246.0 L576.9,1244.2 L577.9,1242.5 L578.9,1240.8 L579.9,1239.1 L580.9,1237.3 L581.9,1235.6 L582.9,1233.8 L583.9,1232.1 L584.8,1230.3 L585.8,1228.6 L586.8,1226.8 L587.8,1225.1 L588.7,1223.3 L589.7,1221.6 L590.6,1219.8 L591.6,1218.1 L592.6,1216.3 L593.5,1214.6 L594.5,1212.8 L595.5,1211.1 L596.4,1209.3 L597.4,1207.6 L598.4,1205.8 L599.3,1204.1 L600.3,1202.3 L601.3,1200.6 L602.3,1198.8 L603.3,1197.1 L604.2,1195.3 L605.2,1193.6 L606.2,1191.9 L607.2,1190.1 L608.2,1188.4 L609.3,1186.7 L610.3,1185.0 L611.3,1183.2 L612.3,1181.5 L613.3,1179.8 L614.3,1178.1 L615.4,1176.3 L616.4,1174.6 L617.4,1172.9 L618.4,1171.2 L619.4,1169.5 L620.4,1167.7 L621.5,1166.0 L622.5,1164.3 L623.5,1162.6 L624.5,1160.8 L625.6,1159.1 L626.6,1157.4 L627.6,1155.7 L628.6,1154.0 L629.7,1152.3 L630.7,1150.6 L631.8,1148.8 L632.8,1147.1 L633.8,1145.4 L634.9,1143.7 L635.9,1142.0 L637.0,1140.3 L638.0,1138.6 L639.1,1136.9 L640.1,1135.2 L641.2,1133.5 L642.2,1131.8 L643.3,1130.1 L644.3,1128.4 L645.4,1126.7 L646.4,1125.0 L647.5,1123.3 L648.5,1121.6 L649.6,1119.9 L650.7,1118.2 L651.7,1116.5 L652.8,1114.8 L653.8,1113.1 L654.9,1111.4 L656.0,1109.7 L657.0,1108.0 L658.1,1106.3 L659.2,1104.6 L660.2,1102.9 L661.3,1101.3 L662.4,1099.6 L663.4,1097.9 L664.5,1096.2 L665.6,1094.5 L666.7,1092.8 L667.7,1091.1 L668.8,1089.4 L669.9,1087.8 L671.0,1086.1 L672.1,1084.4 L673.2,1082.8 L674.3,1081.1 L675.4,1079.4 L676.6,1077.8 L677.7,1076.1 L678.8,1074.5 L680.0,1072.8 L681.1,1071.2 L682.2,1069.5 L683.4,1067.9 L684.5,1066.3 L685.7,1064.7 L686.9,1063.0 L688.1,1061.4 L689.3,1059.9 L690.5,1058.3 L691.8,1056.7 L693.1,1055.2 L694.3,1053.7 L695.6,1052.1 L696.9,1050.6 L698.3,1049.1 L699.6,1047.6 L700.9,1046.1 L702.3,1044.6 L703.6,1043.2 L704.9,1041.7 L706.3,1040.2 L707.6,1038.7 L709.0,1037.2 L710.3,1035.7 L711.7,1034.3" stroke="#000" stroke-width="10"/>
<path d="M321.5,1683.0 L322.5,1681.3 L323.6,1679.6 L324.6,1677.9 L325.7,1676.2 L326.7,1674.5 L327.7,1672.7 L328.8,1671.0 L329.8,1669.3 L330.8,1667.6 L331.9,1665.9 L332.9,1664.2 L334.0,1662.5 L335.0,1660.8 L336.0,1659.1 L337.1,1657.4 L338.1,1655.6 L339.2,1653.9 L340.2,1652.2 L341.2,1650.5 L342.3,1648.8 L343.3,1647.1 L344.4,1645.4 L345.4,1643.7 L346.4,1642.0 L347.5,1640.3 L348.5,1638.5 L349.5,1636.8 L350.6,1635.1 L351.6,1633.4 L352.7,1631.7 L353.7,1630.0 L354.7,1628.3 L355.8,1626.6 L356.8,1624.9 L357.9,1623.2 L358.9,1621.4 L359.9,1619.7 L361.0,1618.0 L362.0,1616.3 L363.1,1614.6 L364.1,1612.9 L365.1,1611.2 L366.2,1609.5 L367.2,1607.8 L368.2,1606.1 L369.3,1604.3 L370.3,1602.6 L371.4,1600.9 L372.4,1599.2 L373.4,1597.5 L374.5,1595.8 L375.5,1594.1 L376.5,1592.4 L377.6,1590.7 L378.6,1588.9 L379.6,1587.2 L380.7,1585.5 L381.7,1583.8 L382.7,1582.1 L383.8,1580.4 L384.8,1578.7 L385.8,1576.9 L386.9,1575.2 L387.9,1573.5 L388.9,1571.8 L389.9,1570.1 L391.0,1568.4 L392.0,1566.7 L393.0,1564.9 L394.1,1563.2 L395.1,1561.5 L396.1,1559.8 L397.2,1558.1 L398.2,1556.4 L399.2,1554.6 L400.2,1552.9 L401.3,1551.2 L402.3,1549.5 L403.3,1547.8 L404.4,1546.1 L405.4,1544.4 L406.4,1542.6 L407.4,1540.9 L408.5,1539.2 L409.5,1537.5 L410.5,1535.8 L411.6,1534.1 L412.6,1532.3 L413.6,1530.6 L414.7,1528.9 L415.7,1527.2 L416.7,1525.5 L417.7,1523.8 L418.8,1522.0 L419.8,1520.3 L420.8,1518.6 L421.9,1516.9 L422.9,1515.2 L423.9,1513.5 L424.9,1511.8 L426.0,1510.0 L427.0,1508.3 L428.0,1506.6 L429.1,1504.9 L430.1,1503.2 L431.1,1501.5 L432.2,1499.7 L433.2,1498.0 L434.2,1496.3 L435.2,1494.6 L436.3,1492.9 L437.3,1491.2 L438.3,1489.4 L439.3,1487.7 L440.3,1486.0 L441.4,1484.3 L442.4,1482.5 L443.4,1480.8 L444.3,1479.1 L445.3,1477.3 L446.3,1475.6 L447.3,1473.8 L448.3,1472.1 L449.2,1470.3 L450.2,1468.6 L451.1,1466.8 L452.1,1465.1 L453.0,1463.3 L454.0,1461.5 L454.9,1459.8 L455.9,1458.0 L456.9,1456.3 L457.8,1454.5 L458.8,1452.8 L459.7,1451.0 L460.7,1449.2 L461.6,1447.5 L462.6,1445.7 L463.5,1444.0 L464.5,1442.2 L465.4,1440.4 L466.4,1438.7 L467.3,1436.9 L468.3,1435.2 L469.2,1433.4 L470.2,1431.6 L471.1,1429.9 L472.1,1428.1 L473.1,1426.4 L474.0,1424.6 L475.0,1422.8 L475.9,1421.1 L476.9,1419.3 L477.8,1417.6 L478.8,1415.8 L479.7,1414.1 L480.7,1412.3 L481.6,1410.5 L482.6,1408.8 L483.5,1407.0 L484.5,1405.3 L485.4,1403.5 L486.4,1401.7 L487.3,1400.0 L488.3,1398.2 L489.3,1396.5 L490.2,1394.7 L491.2,1392.9 L492.1,1391.2 L493.1,1389.4 L494.0,1387.7 L495.0,1385.9 L495.9,1384.1 L496.9,1382.4 L497.8,1380.6 L498.8,1378.9 L499.7,1377.1 L500.7,1375.3 L501.6,1373.6 L502.6,1371.8 L503.6,1370.1 L504.5,1368.3 L505.5,1366.6 L506.4,1364.8 L507.4,1363.1 L508.4,1361.3 L509.4,1359.6 L510.4,1357.8 L511.3,1356.1 L512.3,1354.4 L513.3,1352.6 L514.3,1350.9 L515.3,1349.2 L516.3,1347.4 L517.3,1345.7 L518.4,1344.0 L519.4,1342.2 L520.4,1340.5 L521.4,1338.8 L522.4,1337.1 L523.4,1335.3 L524.4,1333.6 L525.4,1331.9 L526.4,1330.1 L527.4,1328.4 L528.4,1326.7 L529.4,1325.0 L530.4,1323.2 L531.5,1321.5 L532.5,1319.8 L533.5,1318.1 L534.5,1316.3 L535.5,1314.6 L536.5,1312.9 L537.5,1311.1 L538.5,1309.4 L539.5,1307.7 L540.5,1306.0 L541.5,1304.2 L542.5,1302.5 L543.6,1300.8 L544.6,1299.0 L545.6,1297.3 L546.6,1295.6 L547.6,1293.9 L548.6,1292.1 L549.6,1290.4 L550.6,1288.7 L551.6,1286.9 L552.6,1285.2 L553.6,1283.5 L554.6,1281.8 L555.6,1280.0 L556.7,1278.3 L557.7,1276.6 L558.7,1274.8 L559.7,1273.1 L560.7,1271.4 L561.7,1269.7 L562.7,1267.9 L563.7,1266.2 L564.7,1264.5 L565.7,1262.8 L566.7,1261.0 L567.7,1259.3 L568.8,1257.6 L569.8,1255.8 L570.8,1254.1 L571.8,1252.4 L572.8,1250.7 L573.8,1248.9 L574.8,1247.2 L575.8,1245.5 L576.8,1243.7 L577.8,1242.0 L578.9,1240.3 L579.9,1238.6 L580.9,1236.8 L581.9,1235.1 L582.9,1233.4 L583.9,1231.7 L584.9,1230.0 L586.0,1228.2 L587.0,1226.5 L588.0,1224.8 L589.0,1223.1 L590.0,1221.3 L591.0,1219.6 L592.1,1217.9 L593.1,1216.2 L594.1,1214.4 L595.1,1212.7 L596.1,1211.0 L597.2,1209.3 L598.2,1207.6 L599.2,1205.8 L600.2,1204.1 L601.2,1202.4 L602.2,1200.7 L603.3,1198.9 L604.3,1197.2 L605.3,1195.5 L606.3,1193.8 L607.3,1192.1 L608.4,1190.3 L609.4,1188.6 L610.4,1186.9 L611.4,1185.2 L612.5,1183.5 L613.5,1181.7 L614.5,1180.0 L615.5,1178.3 L616.6,1176.6 L617.6,1174.9 L618.6,1173.2 L619.6,1171.4 L620.6,1169.7 L621.7,1168.0 L622.7,1166.3 L623.7,1164.6 L624.7,1162.8 L625.8,1161.1 L626.8,1159.4 L627.8,1157.7 L628.8,1156.0 L629.8,1154.2 L630.9,1152.5 L631.9,1150.8 L632.9,1149.1 L633.9,1147.3 L634.9,1145.6 L635.9,1143.9 L637.0,1142.2 L638.0,1140.4 L639.0,1138.7 L640.0,1137.0 L641.0,1135.3 L642.0,1133.5 L643.0,1131.8 L644.0,1130.1 L645.0,1128.4 L646.0,1126.6 L647.0,1124.9 L648.0,1123.2 L649.0,1121.4 L650.0,1119.7 L650.9,1117.9 L651.9,1116.2 L652.8,1114.4 L653.8,1112.6 L654.7,1110.9 L655.7,1109.1 L656.6,1107.3 L657.5,1105.5 L658.4,1103.8 L659.4,1102.0 L660.3,1100.2 L661.2,1098.5 L662.1,1096.7 L663.1,1094.9 L664.0,1093.1 L664.9,1091.4 L665.9,1089.6 L666.8,1087.8 L667.7,1086.0 L668.6,1084.3 L669.5,1082.5 L670.4,1080.7 L671.2,1078.9 L672.0,1077.1 L672.9,1075.2 L673.6,1073.4 L674.4,1071.6 L675.1,1069.7 L675.8,1067.8 L676.5,1066.0 L677.2,1064.1 L677.8,1062.2 L678.5,1060.3 L679.2,1058.4 L679.8,1056.5 L680.5,1054.7 L681.2,1052.8 L681.9,1050.9 L682.7,1049.1 L683.4,1047.2 L684.2,1045.4 L685.0,1043.5 L685.8,1041.7 L686.6,1039.9 L687.5,1038.1 L688.3,1036.3 L689.2,1034.5 L690.1,1032.7 L691.0,1030.9 L691.9,1029.1 L692.8,1027.4 L693.7,1025.6 L694.6,1023.8 L695.5,1022.0 L696.4,1020.2 L697.3,1018.4 L698.1,1016.6 L698.9,1014.8 L699.8,1013.0 L700.6,1011.2 L701.4,1009.4 L702.2,1007.6 L703.1,1005.8 L704.0,1004.0 L704.9,1002.2 L705.8,1000.5 L706.8,998.7 L707.8,997.0 L708.8,995.3 L709.8,993.6 L710.9,991.9 L712.0,990.2 L713.1,988.6 L714.2,986.9 L715.3,985.2 L716.4,983.5 L717.5,981.9 L718.6,980.2 L719.7,978.5 L720.8,976.9 L721.9,975.2 L723.0,973.5 L724.1,971.9 L725.2,970.2 L726.3,968.5 L727.4,966.9 L728.5,965.2 L729.6,963.5 L730.7,961.9 L731.8,960.2 L732.9,958.5 L734.0,956.9 L735.2,955.2 L736.3,953.5 L737.4,951.9 L738.5,950.2 L739.6,948.5 L740.7,946.9 L741.8,945.2 L742.9,943.5 L744.1,941.9 L745.2,940.2 L746.3,938.6 L747.5,937.0 L748.6,935.3 L749.8,933.7 L750.9,932.1 L752.1,930.4 L753.3,928.8 L754.4,927.2 L755.6,925.6 L756.8,923.9 L758.0,922.3 L759.1,920.7 L760.3,919.1 L761.5,917.5 L762.7,915.8 L763.8,914.2 L765.0,912.6 L766.2,911.0 L767.3,909.4 L768.5,907.7 L769.7,906.1 L770.9,904.5 L772.0,902.9 L773.2,901.3 L774.4,899.6 L775.6,898.0 L776.7,896.4 L777.9,894.8 L779.1,893.2 L780.3,891.6 L781.5,890.0 L782.7,888.4 L783.9,886.8 L785.1,885.2 L786.3,883.6 L787.6,882.0 L788.8,880.5 L790.1,878.9 L791.3,877.4 L792.6,875.8 L793.9,874.3 L795.2,872.8 L796.5,871.2 L797.8,869.7 L799.1,868.2 L800.3,866.6 L801.6,865.1 L802.9,863.6 L804.2,862.0 L805.5,860.5 L806.8,859.0 L808.1,857.5 L809.4,856.0 L810.7,854.4 L812.0,852.8 L813.3,851.4 L814.6,849.9 L815.9,848.4 L817.2,846.8 L818.5,845.3 L819.8,843.7 L821.1,842.3 L822.4,840.9 L823.8,839.4 L825.1,837.9 L826.5,836.3 L827.8,834.9 L829.2,833.4 L830.6,831.9 L832.0,830.4 L833.4,829.1 L834.8,827.7 L836.2,826.1 L837.6,824.4 L839.0,823.3 L840.4,822.2 L841.9,820.7 L843.3,819.4 L844.7,818.0 L846.1,816.6 L847.5,815.2 L848.9,813.6 L850.4,812.1 L851.8,810.8 L853.2,809.5 L854.6,808.5 L856.0,807.2 L857.4,805.5 L858.8,804.0 L860.3,802.7 L861.7,801.1 L863.1,799.7 L864.5,798.3 L865.9,796.7 L867.3,795.2 L868.7,793.7 L870.2,792.3 L871.6,791.1 L873.0,789.8 L874.4,787.8 L875.8,785.9 L877.2,784.7 L878.6,783.5 L880.0,782.5 L881.4,781.4 L882.8,779.7 L884.2,777.6 L885.7,776.2 L887.1,775.1 L888.5,773.4 L889.8,772.0 L891.2,771.3 L892.6,769.8 L894.0,768.3 L895.4,766.9 L896.8,765.4 L898.2,764.0 L899.6,762.5 L901.0,760.9 L902.4,759.4 L903.8,758.1 L905.2,756.9 L906.6,755.5 L908.0,753.9 L909.4,752.8 L910.8,751.7 L912.2,750.3 L913.6,748.5 L915.0,747.0 L916.4,745.6 L917.8,743.6 L919.2,742.3 L920.6,741.3 L922.0,739.6 L923.4,738.2 L924.8,736.9 L926.2,735.1 L927.6,733.4 L929.0,731.8 L930.4,730.1 L931.8,728.2 L933.2,726.8 L934.6,726.5 L936.0,725.4 L937.4,723.4 L938.8,722.3 L940.3,721.5 L941.7,720.5 L943.1,719.1 L944.6,717.2 L946.0,715.3 L947.5,713.9 L948.9,712.3 L950.4,710.8 L951.9,709.7 L953.3,708.6 L954.8,707.8 L956.3,706.1 L957.7,704.3 L959.2,703.6 L960.7,702.3 L962.1,699.8 L963.6,697.4 L965.1,696.3 L966.5,695.4 L968.0,693.9 L969.5,692.3 L970.9,691.5 L972.4,691.1 L973.9,688.9 L975.3,686.3 L976.8,685.3 L978.3,684.6 L979.7,683.6 L981.2,682.6 L982.7,681.2 L984.1,679.7 L985.6,679.6 L987.1,679.2 L988.6,675.9 L990.0,673.5 L991.5,673.3 L993.0,671.7 L994.5,669.4 L996.0,668.5 L997.5,667.9 L998.9,667.0 L1000.4,666.9 L1001.9,666.3 L1003.4,663.8 L1004.9,662.4 L1006.4,661.5 L1007.9,658.7 L1009.4,656.3 L1010.9,655.1 L1012.3,654.5 L1013.8,653.9 L1015.3,652.6 L1016.8,651.0 L1018.3,649.5 L1019.8,648.0 L1021.3,646.3 L1022.8,645.0 L1024.3,644.5 L1025.8,643.2 L1027.2,641.1 L1028.7,639.3 L1030.3,638.5 L1031.8,639.3 L1033.3,638.8 L1034.8,636.7 L1036.3,635.3 L1037.9,633.5 L1039.4,630.8 L1041.0,629.1 L1042.6,628.0 L1044.1,626.5 L1045.7,625.7 L1047.3,624.9 L1048.9,622.7 L1050.5,620.7 L1052.1,620.2 L1053.7,620.0 L1055.3,619.1 L1056.9,619.0 L1058.5,618.0 L1060.1,615.7 L1061.7,614.6 L1063.3,613.2 L1064.9,610.9 L1066.4,608.9 L1068.0,607.6 L1069.6,606.4 L1071.2,603.8 L1072.8,601.8 L1074.4,602.1 L1076.0,602.2 L1077.6,600.9 L1079.2,599.2 L1080.8,598.9 L1082.4,598.2 L1084.0,596.3 L1085.6,595.3 L1087.3,594.0 L1088.9,592.5 L1090.5,592.1 L1092.1,592.1 L1093.8,591.6 L1095.4,589.2 L1097.0,588.3 L1098.7,589.3 L1100.3,587.6 L1101.9,583.3 L1103.6,581.0 L1105.2,581.2 L1106.8,580.2 L1108.5,579.4 L1110.1,578.8 L1111.7,577.3 L1113.4,575.7 L1115.0,574.0 L1116.7,572.9 L1118.3,571.7 L1119.9,570.0 L1121.6,569.7 L1123.2,569.1 L1124.8,567.4 L1126.5,567.7 L1128.1,569.0 L1129.8,569.0 L1131.4,566.3 L1133.1,563.4 L1134.7,560.9 L1136.4,558.6 L1138.1,558.2 L1139.8,558.4 L1141.5,558.2 L1143.2,556.7 L1144.9,554.3 L1146.6,552.4 L1148.3,551.3 L1150.0,551.4 L1151.7,551.9 L1153.4,551.0 L1155.1,547.6 L1156.8,544.1 L1158.5,544.0 L1160.3,546.1 L1162.0,546.0 L1163.7,544.1 L1165.4,542.6 L1167.1,541.4 L1168.8,540.9 L1170.6,540.6 L1172.3,538.4 L1174.0,535.7 L1175.7,533.7 L1177.4,533.0 L1179.2,533.6 L1180.9,532.6 L1182.6,530.7 L1184.4,529.3 L1186.1,529.3 L1187.9,529.9 L1189.7,529.1 L1191.4,528.6 L1193.2,528.5 L1195.0,526.5 L1196.7,524.5 L1198.5,523.4 L1200.3,522.4 L1202.1,522.4 L1203.8,522.1 L1205.6,520.9 L1207.4,519.6 L1209.2,517.1 L1210.9,516.3 L1212.7,517.1 L1214.5,515.0 L1216.3,513.1 L1218.1,513.5 L1219.8,512.7 L1221.6,510.8 L1223.4,510.1 L1225.2,511.3 L1226.9,511.3 L1228.7,508.9 L1230.5,507.6 L1232.3,507.0 L1234.1,504.4 L1235.9,501.6 L1237.7,500.8 L1239.5,501.2 L1241.3,500.0 L1243.1,498.5 L1245.0,499.4 L1246.8,499.2 L1248.6,497.6 L1250.4,499.1 L1252.3,500.4 L1254.1,496.5 L1255.9,492.6 L1257.8,491.9 L1259.6,491.5 L1261.4,490.9 L1263.2,490.7 L1265.1,490.0 L1266.9,489.2 L1268.7,489.3 L1270.6,489.1 L1272.4,487.1 L1274.2,485.8 L1276.1,488.2 L1277.9,489.2 L1279.7,486.2 L1281.6,483.8 L1283.4,483.9 L1285.2,483.1 L1287.0,481.1 L1288.9,480.8 L1290.7,480.7 L1292.5,481.1 L1294.4,480.3 L1296.2,477.4 L1298.0,474.2 L1299.9,471.3 L1301.7,470.9 L1303.5,473.1 L1305.4,474.3 L1307.2,471.3 L1309.0,468.7 L1310.9,469.1 L1312.7,469.4 L1314.6,468.7 L1316.4,467.1 L1318.3,465.6 L1320.1,465.3 L1322.0,466.1 L1323.9,467.4 L1325.7,467.0 L1327.6,465.3 L1329.5,463.5 L1331.4,462.0 L1333.3,461.6 L1335.2,461.4 L1337.1,460.5 L1338.9,459.5 L1340.8,459.2 L1342.7,460.1 L1344.6,460.2 L1346.5,459.0 L1348.4,458.6 L1350.3,458.1 L1352.2,457.5 L1354.1,456.9 L1356.0,455.4 L1357.9,453.1 L1359.8,450.8 L1361.7,450.8 L1363.6,453.2 L1365.5,454.9 L1367.4,452.7 L1369.3,450.2 L1371.2,451.1 L1373.1,451.2 L1375.0,449.3 L1377.0,449.1 L1378.9,448.4 L1380.8,446.2 L1382.7,444.5 L1384.6,444.2 L1386.5,445.9 L1388.5,446.3 L1390.4,444.9 L1392.3,444.4 L1394.2,443.7 L1396.1,442.3 L1398.0,441.2 L1400.0,440.5 L1401.9,440.5 L1403.8,440.9 L1405.7,440.8 L1407.6,440.5 L1409.6,439.6 L1411.5,437.8 L1413.4,436.8 L1415.4,436.7 L1417.3,437.4 L1419.2,436.5 L1421.2,434.5 L1423.1,435.7 L1425.1,436.6 L1427.0,433.8 L1428.9,432.4 L1430.9,434.1 L1432.8,433.0 L1434.8,432.7 L1436.7,433.5 L1438.7,431.5 L1440.6,430.9 L1442.5,432.0 L1444.5,431.5 L1446.4,430.2 L1448.4,429.0 L1450.3,428.5 L1452.3,427.5 L1454.2,424.9 L1456.2,423.9 L1458.1,424.3 L1460.0,425.2 L1462.0,426.3 L1463.9,425.4 L1465.9,423.5 L1467.8,422.9 L1469.8,423.5 L1471.7,422.8 L1473.7,421.4 L1475.6,420.8 L1477.6,419.8 L1479.5,419.4 L1481.5,420.5 L1483.4,422.1 L1485.4,420.9 L1487.3,417.7 L1489.2,418.9 L1491.2,421.5 L1493.1,419.3 L1495.1,416.6 L1497.1,416.4 L1499.0,416.7 L1501.0,417.6 L1502.9,417.5 L1504.9,416.6 L1506.9,417.0 L1508.8,417.4 L1510.8,417.2 L1512.8,416.4 L1514.8,414.9 L1516.8,415.2 L1518.8,417.0 L1520.8,415.7 L1522.8,413.5 L1524.8,414.7 L1526.8,417.3 L1528.8,415.8 L1530.8,413.2 L1532.7,413.8 L1534.7,413.6 L1536.7,412.4 L1538.7,412.4 L1540.6,414.3 L1542.6,414.2 L1544.5,410.7 L1546.5,409.0 L1548.4,409.0 L1550.3,408.2 L1552.2,407.2 L1554.2,407.1 L1556.1,408.6 L1558.0,408.3 L1559.9,405.7 L1561.8,406.2 L1563.7,407.5 L1565.6,407.2 L1567.5,408.6 L1569.4,408.9 L1571.3,408.5 L1573.2,409.1 L1575.1,409.1 L1577.0,407.7 L1579.0,406.1 L1580.9,406.5 L1582.8,406.2 L1584.7,405.6 L1586.6,407.7 L1588.6,409.2 L1590.5,409.5 L1592.4,411.2 L1594.4,412.2 L1596.3,410.9 L1598.3,410.5 L1600.2,411.4 L1602.2,412.5 L1604.2,411.6 L1606.1,409.5 L1608.1,410.3 L1610.1,410.7 L1612.1,411.5 L1614.1,413.9 L1616.1,412.8 L1618.1,412.2 L1620.1,413.9 L1622.1,413.0 L1624.1,411.5 L1626.1,412.0 L1628.1,411.1 L1630.1,409.1 L1632.1,408.9 L1634.1,409.5 L1636.1,410.4 L1638.0,410.9 L1640.0,409.9 L1642.0,409.9 L1644.0,411.5 L1646.0,411.2 L1648.0,409.6 L1650.0,410.4 L1652.0,413.3 L1654.0,414.9 L1656.0,414.0 L1658.0,413.1 L1660.0,413.1 L1661.9,411.9 L1663.9,411.9 L1665.9,414.5 L1667.9,415.9 L1669.9,414.7 L1671.9,412.7 L1673.8,412.9 L1675.8,414.4 L1677.8,414.2 L1679.8,415.6 L1681.7,417.5 L1683.7,416.4 L1685.7,415.8 L1687.7,415.5 L1689.6,414.9 L1691.6,417.5 L1693.6,419.7 L1695.5,419.4 L1697.5,419.5 L1699.5,419.7 L1701.5,419.3 L1703.4,419.5 L1705.4,420.0 L1707.4,421.2 L1709.4,421.9 L1711.3,420.5 L1713.3,418.8 L1715.3,419.4 L1717.3,422.4 L1719.3,423.9 L1721.2,423.0 L1723.2,422.5 L1725.2,423.7 L1727.2,424.2 L1729.2,424.2 L1731.2,425.0 L1733.2,423.7 L1735.2,423.2 L1737.1,425.0 L1739.1,424.9 L1741.1,424.8 L1743.1,426.1 L1745.1,425.8 L1747.1,424.5 L1749.1,425.2 L1751.1,426.4 L1753.1,427.5 L1755.0,427.8 L1757.0,425.8 L1759.0,423.8 L1761.0,424.3 L1763.0,425.6 L1765.0,425.0 L1767.0,423.9 L1769.0,423.1 L1771.0,423.3 L1773.0,425.6 L1775.0,426.0 L1777.0,424.7 L1779.0,425.3 L1781.0,425.3 L1783.0,424.2 L1785.0,424.3 L1787.0,424.6 L1789.0,423.3 L1791.0,423.3 L1793.0,426.5 L1795.0,427.6 L1797.0,426.2 L1799.0,426.6 L1801.0,427.1 L1803.0,425.3 L1805.0,423.6 L1807.0,423.7 L1809.0,424.3 L1811.0,424.1 L1813.0,424.9 L1815.0,426.0 L1817.0,425.1 L1819.0,423.8 L1821.0,423.0 L1823.0,423.3 L1825.0,424.7 L1827.0,426.0 L1829.0,425.2 L1831.0,423.6 L1833.0,424.5 L1835.0,424.2 L1837.0,423.0 L1839.0,423.4 L1841.0,424.6 L1843.0,424.6 L1845.0,423.5 L1847.0,423.6 L1849.0,425.4 L1851.0,426.0 L1853.0,425.4 L1855.0,426.1 L1857.0,425.8 L1859.0,424.1 L1861.0,422.0 L1863.0,421.4 L1865.0,423.7 L1867.0,425.1 L1869.0,425.3 L1871.0,425.4 L1873.0,426.9 L1875.0,427.6 L1877.0,425.4 L1879.0,423.1 L1880.9,424.4 L1882.9,427.7 L1884.9,428.0 L1886.9,427.4 L1888.9,427.3 L1890.9,425.6 L1892.8,426.2 L1894.8,428.2 L1896.8,428.5 L1898.8,429.3 L1900.8,430.1 L1902.8,429.5 L1904.7,431.0 L1906.7,434.1 L1908.7,433.5 L1910.7,430.6 L1912.6,430.9 L1914.6,433.7 L1916.6,435.6 L1918.6,434.5 L1920.5,431.8 L1922.5,431.2 L1924.5,432.9 L1926.4,434.6 L1928.4,435.1 L1930.4,435.1 L1932.4,435.0 L1934.3,435.5 L1936.3,434.5 L1938.3,433.0 L1940.2,433.3 L1942.2,435.1 L1944.2,437.3 L1946.1,437.3 L1948.1,437.1 L1950.1,437.8 L1952.0,438.0 L1954.0,439.4 L1955.9,439.9 L1957.9,438.6 L1959.9,439.0 L1961.8,439.3 L1963.8,439.5 L1965.8,441.5 L1967.7,441.0 L1969.7,439.7 L1971.7,441.1 L1973.6,442.5 L1975.6,443.2 L1977.6,443.2 L1979.6,443.0 L1981.5,444.2 L1983.5,444.3 L1985.5,443.7 L1987.5,444.3 L1989.5,445.0 L1991.5,444.3 L1993.5,443.3 L1995.5,444.7 L1997.5,446.0 L1999.5,446.1 L2001.5,446.3 L2003.5,446.6 L2005.5,446.5 L2007.5,444.5 L2009.5,443.0 L2011.5,442.9 L2013.5,443.5 L2015.5,443.8 L2017.5,444.2 L2019.5,444.7 L2021.5,443.0 L2023.5,443.0 L2025.5,444.8 L2027.5,444.7 L2029.5,444.4 L2031.5,445.1 L2033.5,445.9 L2035.5,444.7 L2037.4,441.6 L2039.4,440.7 L2041.4,442.2 L2043.3,443.4 L2045.2,442.4 L2047.1,443.4 L2049.0,448.1 L2050.9,450.0 L2052.8,448.8 L2054.7,448.4 L2056.5,448.7 L2058.4,448.5 L2060.2,446.6 L2062.1,446.6 L2063.9,450.3 L2065.8,452.9 L2067.6,453.7 L2069.5,455.0 L2071.3,455.3 L2073.2,453.8 L2075.1,452.6 L2076.9,453.2 L2078.8,455.1 L2080.7,457.2 L2082.6,458.1 L2084.5,459.1 L2086.4,462.0 L2088.2,463.3 L2090.1,462.0 L2092.0,460.9 L2093.9,461.7 L2095.8,465.1 L2097.7,466.9 L2099.6,464.6 L2101.5,463.2 L2103.4,464.9 L2105.2,466.7 L2107.1,467.6 L2109.0,467.6 L2110.8,467.1 L2112.7,467.6 L2114.5,468.2 L2116.3,468.9 L2118.2,471.0 L2120.0,472.1 L2121.8,471.9 L2123.6,473.3 L2125.4,474.9 L2127.2,475.0 L2129.0,476.3 L2130.8,478.7 L2132.7,478.9 L2134.5,478.3 L2136.3,479.9 L2138.1,481.3 L2139.9,482.2 L2141.8,483.7 L2143.6,484.6 L2145.5,484.2 L2147.3,484.8 L2149.2,486.5 L2151.1,485.9 L2153.0,486.1 L2154.9,488.0 L2156.8,487.2 L2158.8,486.5 L2160.7,487.7 L2162.7,487.5 L2164.6,487.5 L2166.6,489.1 L2168.6,490.4 L2170.5,490.5 L2172.5,489.8 L2174.4,490.1 L2176.4,491.8 L2178.4,492.8 L2180.3,493.4 L2182.3,493.9 L2184.3,493.6 L2186.2,494.1 L2188.2,494.8 L2190.1,495.3 L2192.1,496.5 L2194.1,497.5 L2196.0,496.6 L2198.0,494.9 L2199.9,493.6 L2201.9,493.9 L2203.8,495.4 L2205.7,495.7 L2207.6,497.3 L2209.5,499.8 L2211.4,498.8 L2213.2,498.2 L2215.0,500.8 L2216.8,502.3 L2218.5,502.0 L2220.3,502.1 L2222.0,503.0 L2223.7,504.5 L2225.4,505.8 L2227.1,506.7 L2228.9,508.3 L2230.6,510.3 L2232.3,510.5 L2234.1,510.4 L2235.8,511.4 L2237.6,511.2 L2239.4,510.9 L2241.2,514.1 L2243.0,517.0 L2244.8,516.3 L2246.6,515.6 L2248.4,517.0 L2250.2,519.2 L2252.1,520.8 L2253.9,520.5 L2255.8,521.0 L2257.6,522.3 L2259.5,521.6 L2261.4,521.3 L2263.3,523.1 L2265.2,524.7 L2267.2,524.8 L2269.1,525.0 L2271.1,525.2 L2273.0,525.3 L2275.0,526.5 L2277.0,528.0 L2278.9,527.4 L2280.9,526.5 L2282.9,528.5 L2284.8,529.6 L2286.8,528.8 L2288.8,527.7 L2290.7,526.6 L2292.7,527.8 L2294.6,529.2 L2296.6,530.4 L2298.5,531.3 L2300.5,530.5 L2302.4,530.9 L2304.4,532.8 L2306.3,534.5 L2308.3,536.6 L2310.2,536.3 L2312.2,534.3 L2314.1,536.3 L2316.1,537.8 L2318.0,535.9 L2320.0,535.7" stroke="#262626" stroke-width="3.0" stroke-dasharray="10.5 6.5"/>
<path d="M682.5,1053.5 L683.6,1051.8 L684.7,1050.2 L685.9,1048.5 L687.0,1046.9 L688.1,1045.2 L689.3,1043.6 L690.4,1042.0 L691.6,1040.3 L692.7,1038.7 L693.9,1037.0 L695.0,1035.4 L696.2,1033.8 L697.3,1032.1 L698.5,1030.5 L699.6,1028.8 L700.8,1027.2 L701.9,1025.6 L703.1,1023.9 L704.2,1022.3 L705.4,1020.7 L706.6,1019.1 L707.8,1017.5 L709.0,1015.9 L710.2,1014.3 L711.4,1012.7 L712.6,1011.1 L713.9,1009.6 L715.1,1008.0 L716.4,1006.5 L717.7,1004.9 M635.4,1127.8 L636.4,1126.1 L637.5,1124.4 L638.5,1122.7 L639.5,1121.0 L640.5,1119.2 L641.6,1117.5 L642.6,1115.8 L643.6,1114.1 L644.7,1112.4 L645.7,1110.7 L646.7,1109.0 L647.8,1107.3 L648.8,1105.6 L649.9,1103.9 L650.9,1102.1 L652.0,1100.4 L653.0,1098.7 L654.0,1097.0 L655.1,1095.3 L656.1,1093.6 L657.2,1091.9 L658.2,1090.2 L659.3,1088.5 L660.4,1086.8 L661.4,1085.1 L662.5,1083.5 L663.6,1081.8 L664.7,1080.1 L665.8,1078.4 L666.9,1076.7 M592.3,1204.6 L593.2,1202.8 L594.1,1201.0 L595.0,1199.2 L595.9,1197.4 L596.9,1195.7 L597.8,1193.9 L598.7,1192.1 L599.7,1190.4 L600.7,1188.6 L601.6,1186.9 L602.6,1185.1 L603.6,1183.4 L604.5,1181.6 L605.5,1179.9 L606.5,1178.1 L607.5,1176.4 L608.5,1174.7 L609.4,1172.9 L610.4,1171.2 L611.4,1169.4 L612.4,1167.7 L613.4,1165.9 L614.4,1164.2 L615.3,1162.5 L616.3,1160.7 L617.3,1159.0 L618.3,1157.2 L619.3,1155.5 L620.3,1153.8 L621.3,1152.0 M549.8,1281.6 L550.8,1279.9 L551.8,1278.1 L552.9,1276.4 L553.9,1274.7 L554.9,1273.0 L555.9,1271.3 L557.0,1269.6 L558.0,1267.8 L559.0,1266.1 L560.0,1264.4 L561.1,1262.7 L562.1,1261.0 L563.1,1259.2 L564.1,1257.5 L565.2,1255.8 L566.2,1254.1 L567.2,1252.4 L568.2,1250.6 L569.2,1248.9 L570.2,1247.2 L571.2,1245.5 L572.2,1243.7 L573.2,1242.0 L574.2,1240.2 L575.1,1238.5 L576.1,1236.7 L577.0,1234.9 L577.9,1233.2 L578.8,1231.4 L579.7,1229.6 M504.8,1357.2 L505.8,1355.5 L506.8,1353.8 L507.8,1352.0 L508.8,1350.3 L509.8,1348.6 L510.8,1346.9 L511.9,1345.1 L512.9,1343.4 L513.9,1341.7 L514.9,1340.0 L516.0,1338.3 L517.0,1336.6 L518.0,1334.8 L519.0,1333.1 L520.1,1331.4 L521.1,1329.7 L522.1,1328.0 L523.1,1326.2 L524.2,1324.5 L525.2,1322.8 L526.2,1321.1 L527.2,1319.4 L528.3,1317.7 L529.3,1315.9 L530.3,1314.2 L531.3,1312.5 L532.4,1310.8 L533.4,1309.1 L534.4,1307.3 L535.4,1305.6 M462.9,1434.6 L463.8,1432.9 L464.8,1431.1 L465.7,1429.3 L466.7,1427.6 L467.6,1425.8 L468.6,1424.1 L469.5,1422.3 L470.5,1420.5 L471.4,1418.8 L472.4,1417.0 L473.3,1415.2 L474.3,1413.5 L475.2,1411.7 L476.1,1410.0 L477.1,1408.2 L478.0,1406.4 L479.0,1404.7 L479.9,1402.9 L480.9,1401.2 L481.8,1399.4 L482.8,1397.6 L483.7,1395.9 L484.7,1394.1 L485.6,1392.3 L486.6,1390.6 L487.5,1388.8 L488.5,1387.1 L489.4,1385.3 L490.4,1383.5 L491.3,1381.8 M420.2,1511.6 L421.2,1509.9 L422.2,1508.2 L423.2,1506.4 L424.2,1504.7 L425.2,1503.0 L426.2,1501.2 L427.2,1499.5 L428.2,1497.8 L429.2,1496.0 L430.2,1494.3 L431.2,1492.6 L432.2,1490.8 L433.2,1489.1 L434.2,1487.4 L435.2,1485.6 L436.2,1483.9 L437.2,1482.1 L438.2,1480.4 L439.1,1478.6 L440.1,1476.9 L441.1,1475.1 L442.0,1473.4 L443.0,1471.6 L443.9,1469.9 L444.9,1468.1 L445.8,1466.3 L446.8,1464.6 L447.7,1462.8 L448.7,1461.1 L449.6,1459.3 M376.2,1587.9 L377.2,1586.1 L378.2,1584.4 L379.2,1582.7 L380.2,1580.9 L381.2,1579.2 L382.2,1577.5 L383.2,1575.7 L384.2,1574.0 L385.2,1572.3 L386.2,1570.5 L387.2,1568.8 L388.2,1567.1 L389.2,1565.3 L390.2,1563.6 L391.2,1561.9 L392.2,1560.1 L393.2,1558.4 L394.2,1556.7 L395.2,1554.9 L396.2,1553.2 L397.2,1551.5 L398.2,1549.7 L399.2,1548.0 L400.2,1546.3 L401.2,1544.5 L402.2,1542.8 L403.2,1541.1 L404.2,1539.3 L405.2,1537.6 L406.2,1535.9 M331.6,1663.8 L332.7,1662.0 L333.7,1660.3 L334.7,1658.6 L335.7,1656.9 L336.7,1655.1 L337.7,1653.4 L338.7,1651.7 L339.8,1650.0 L340.8,1648.2 L341.8,1646.5 L342.8,1644.8 L343.8,1643.1 L344.8,1641.3 L345.8,1639.6 L346.8,1637.9 L347.9,1636.2 L348.9,1634.4 L349.9,1632.7 L350.9,1631.0 L351.9,1629.3 L352.9,1627.5 L353.9,1625.8 L355.0,1624.1 L356.0,1622.4 L357.0,1620.6 L358.0,1618.9 L359.0,1617.2 L360.0,1615.5 L361.0,1613.7 L362.1,1612.0 M734.4,985.0 L735.6,983.4 L736.9,981.9 L738.2,980.4 L739.5,978.8 L740.8,977.3 L742.0,975.7 L743.3,974.2 L744.6,972.7 L745.8,971.1 L747.1,969.6 L748.4,968.0 L749.7,966.5 L750.9,964.9 L752.2,963.4 L753.5,961.9 L754.8,960.3 L756.0,958.8 L757.3,957.2 L758.6,955.7 L759.8,954.1 L761.1,952.6 L762.4,951.1 L763.7,949.5 L765.0,948.0 L766.2,946.4 L767.5,944.9 L768.8,943.4 L770.1,941.9 L771.4,940.3 M791.7,918.2 L793.0,916.7 L794.4,915.3 L795.7,913.8 L797.1,912.3 L798.5,910.9 L799.8,909.4 L801.2,908.0 L802.6,906.5 L803.9,905.0 L805.3,903.6 L806.7,902.2 L808.0,900.7 L809.4,899.3 L810.8,897.8 L812.1,896.3 L813.5,894.8 L814.9,893.3 L816.2,891.8 L817.6,890.2 L819.0,888.8 L820.3,887.4 L821.7,886.0 L823.0,884.6 L824.4,883.1 L825.7,881.5 L827.1,879.9 L828.4,878.4 L829.7,876.8 L831.0,875.2 M849.8,851.9 L851.2,850.4 L852.5,849.1 L853.9,847.7 L855.3,846.4 L856.6,845.1 L858.0,843.7 L859.4,842.0 L860.8,840.4 L862.3,839.0 L863.7,837.6 L865.1,836.1 L866.5,834.7 L867.9,833.4 L869.3,832.4 L870.8,831.4 L872.2,830.2 L873.6,828.8 L875.0,827.2 L876.4,825.5 L877.8,823.6 L879.3,821.8 L880.7,820.4 L882.1,819.1 L883.6,817.9 L885.0,816.7 L886.5,815.3 L887.9,813.7 L889.4,812.2 M914.7,792.4 L916.2,791.0 L917.8,790.1 L919.3,789.2 L920.8,788.0 L922.3,786.6 L923.8,785.3 L925.2,784.3 L926.7,783.2 L928.2,781.4 L929.6,779.4 L931.1,777.9 L932.6,777.3 L934.0,776.9 L935.5,775.5 L937.0,773.3 L938.4,771.5 L939.9,770.4 L941.4,769.4 L942.8,767.6 L944.3,765.7 L945.8,764.3 L947.2,763.1 L948.7,762.0 L950.2,761.0 L951.6,759.8 L953.1,758.1 L954.6,756.5 M978.4,734.6 L980.0,733.4 L981.6,733.0 L983.2,732.9 L984.8,732.2 L986.4,730.9 L988.0,729.3 L989.6,728.2 L991.3,727.5 L992.9,726.1 L994.5,723.9 L996.2,721.4 L997.8,719.3 L999.5,718.1" stroke="#000" stroke-width="6.0"/>
<path d="M999.5,718.1 L1001.1,717.9 L1002.7,718.1 L1004.4,717.1 L1006.0,714.8 L1007.7,712.5 L1009.3,711.0 L1010.9,709.9 L1012.6,709.4 L1014.2,709.5 L1015.8,709.4 L1017.5,708.6 L1019.1,707.7 L1020.7,707.6 L1022.3,707.1 L1023.9,705.4 L1025.5,703.4 L1027.1,702.1 M1048.9,682.3 L1050.5,681.3 L1052.1,679.8 L1053.7,677.7 L1055.4,675.7 L1057.0,674.4 L1058.7,674.2 L1060.4,675.0 L1062.1,675.5 L1063.7,674.8 L1065.4,672.8 L1067.1,670.1 L1068.8,667.7 L1070.4,667.1 L1072.1,668.1 L1073.8,669.1 L1075.5,668.4 L1077.1,666.0 L1078.8,663.8 L1080.5,663.0 L1082.2,662.3 L1083.9,660.3 L1085.5,657.6 L1087.2,655.7 L1088.9,654.6 L1090.5,653.8 L1092.2,653.1 L1093.9,652.9 L1095.5,652.9 L1097.1,652.5 M1116.8,638.0 L1118.4,635.3 L1120.1,633.6 L1121.8,633.7 L1123.5,634.4 L1125.2,635.1 L1127.0,635.2 L1128.7,633.0 L1130.4,629.3 L1132.2,626.5 L1133.9,625.4 L1135.6,625.2 L1137.4,624.4 L1139.1,623.0 L1140.9,621.3 L1142.6,618.9 L1144.4,616.6 L1146.1,615.5 L1147.8,615.4 L1149.6,615.3 L1151.3,614.6 L1153.1,614.5 L1154.8,615.7 L1156.6,616.6 L1158.3,614.5 L1160.1,610.6 L1161.8,608.2 L1163.6,608.3 L1165.4,608.4 M1190.8,596.8 L1192.6,598.1 L1194.4,598.2 L1196.2,597.2 L1198.0,595.6 L1199.8,593.7 L1201.6,593.0 L1203.4,593.6 L1205.2,594.4 L1207.0,593.3 L1208.8,590.6 L1210.6,588.6 L1212.4,588.3 L1214.2,588.7 L1216.0,588.5 L1217.8,587.3 L1219.5,586.0 L1221.3,585.6 L1223.1,585.3 L1224.9,584.0 L1226.7,582.3 L1228.5,580.9 L1230.3,579.2 L1232.1,577.4 L1233.9,576.6 L1235.7,577.0 L1237.6,577.1 L1239.4,576.4 L1241.2,575.4 L1243.0,575.5 M1269.5,562.9 L1271.4,562.6 L1273.2,562.8 L1275.1,563.7 L1276.9,563.5 L1278.8,561.5 L1280.7,559.5 L1282.5,559.0 L1284.3,558.6 L1286.2,557.0 L1288.0,555.8 L1289.9,556.0 L1291.7,556.2 L1293.6,555.2 L1295.4,553.8 L1297.2,552.8 L1299.1,551.7 L1300.9,549.8 L1302.8,548.0 L1304.6,547.7 L1306.5,548.0 L1308.3,547.2 L1310.2,544.4 L1312.0,541.3 L1313.9,540.5 L1315.7,541.8 L1317.6,542.6 L1319.5,542.1 M1344.4,539.4 L1346.3,539.1 L1348.2,537.2 L1350.2,535.4 L1352.1,533.9 L1354.0,532.4 L1355.9,531.5 L1357.8,531.7 L1359.8,532.3 L1361.7,531.9 L1363.6,529.5 L1365.5,526.8 L1367.4,525.4 L1369.3,525.1 L1371.3,524.7 L1373.2,524.5 L1375.1,524.8 L1377.0,524.8 L1378.9,524.5 L1380.8,524.9 L1382.8,525.5 L1384.7,524.7 L1386.6,522.8 L1388.5,520.8 L1390.5,519.6 L1392.4,519.0 M1419.7,516.5 L1421.7,516.3 L1423.6,515.7 L1425.6,514.9 L1427.6,514.4 L1429.5,515.0 L1431.5,516.9 L1433.5,518.5 L1435.4,518.9 L1437.4,518.0 L1439.4,516.3 L1441.4,514.8 L1443.3,513.7 L1445.3,512.5 L1447.3,510.9 L1449.2,509.5 L1451.2,509.3 L1453.2,509.9 L1455.2,510.3 L1457.1,510.5 L1459.1,510.2 L1461.1,509.2 L1463.0,508.7 L1465.0,509.5 L1467.0,511.0 L1469.0,511.2 L1470.9,510.2 L1472.9,509.8 M1496.8,502.4 L1498.8,502.7 L1500.8,504.0 L1502.7,503.9 L1504.7,503.0 L1506.7,502.6 L1508.7,502.8 L1510.6,503.1 L1512.6,503.2 L1514.6,503.5 L1516.6,503.7 L1518.5,503.2 L1520.5,502.4 L1522.5,502.1 L1524.5,502.1 L1526.4,501.2 L1528.4,499.1 L1530.4,497.2 L1532.4,496.8 L1534.3,497.1 L1536.3,497.3 L1538.3,497.3 L1540.3,497.4 L1542.2,497.3 L1544.2,497.0 L1546.2,496.4 L1548.1,495.9 L1550.1,496.0 L1552.1,496.8 M1579.5,493.5 L1581.5,493.8 L1583.4,495.6 L1585.4,496.5 L1587.3,494.9 L1589.3,492.6 L1591.2,491.8 L1593.2,492.2 L1595.1,492.2 L1597.1,491.6 L1599.1,491.7 L1601.0,492.1 L1603.0,491.9 L1604.9,491.1 L1606.9,490.7 L1608.8,492.1 L1610.8,494.6 L1612.7,496.5 L1614.7,496.6 L1616.6,495.1 L1618.6,494.2 L1620.5,494.0 L1622.5,493.4 L1624.5,493.2 L1626.4,493.6 L1628.4,493.3 L1630.4,491.0 M1656.2,491.3 L1658.2,490.7 L1660.1,489.6 L1662.1,489.9 L1664.1,491.7 L1666.1,492.8 L1668.1,491.7 L1670.0,489.6 L1672.0,488.2 L1674.0,487.7 L1676.0,487.7 L1677.9,487.5 L1679.9,485.8 L1681.9,484.0 L1683.9,484.1 L1685.8,486.1 L1687.8,488.3 L1689.8,489.0 L1691.8,488.3 L1693.7,487.0 L1695.7,486.2 L1697.7,486.9 L1699.7,488.1 L1701.6,488.7 L1703.6,488.6 L1705.6,488.2 L1707.6,487.8 L1709.5,486.8 M1735.4,494.0 L1737.4,494.6 L1739.4,494.8 L1741.4,495.3 L1743.3,495.8 L1745.3,495.8 L1747.3,495.4 L1749.3,495.3 L1751.3,495.7 L1753.2,496.1 L1755.2,497.0 L1757.2,498.3 L1759.2,498.6 L1761.1,498.1 L1763.1,498.0 L1765.1,498.7 L1767.1,498.9 L1769.0,498.0 L1771.0,497.7 L1773.0,498.7 L1775.0,499.9 L1776.9,500.5 L1778.9,500.5 L1780.9,500.2 L1782.9,499.1 L1784.8,497.5 L1786.8,496.9 L1788.8,497.3 L1790.8,497.4 L1792.7,497.0 M1818.4,504.5 L1820.4,503.4 L1822.3,503.6 L1824.3,504.1 L1826.3,504.3 L1828.3,504.4 L1830.2,505.3 L1832.2,506.2 L1834.2,506.1 L1836.2,506.1 L1838.1,507.6 L1840.1,509.2 L1842.0,509.6 L1844.0,509.8 L1846.0,510.1 L1847.9,510.1 L1849.8,509.3 L1851.8,509.0 L1853.7,510.3 L1855.6,511.9 L1857.5,512.6 L1859.4,512.1 L1861.4,511.7 L1863.3,512.4 L1865.2,514.0 L1867.1,516.3 L1869.0,517.8 L1870.9,517.4 L1872.8,516.2 M1897.5,525.7 L1899.5,527.0 L1901.4,528.7 L1903.3,529.4 L1905.2,529.0 L1907.1,527.5 L1909.1,525.3 L1911.0,524.7 L1912.9,527.0 L1914.8,529.5 L1916.7,530.7 L1918.7,531.5 L1920.6,532.4 L1922.6,532.8 L1924.5,532.2 L1926.4,531.8 L1928.4,532.7 L1930.3,534.7 L1932.3,535.6 L1934.3,534.8 L1936.2,533.9 L1938.2,535.6 L1940.1,539.7 L1942.1,542.0 L1944.1,540.5 L1946.0,537.8 L1948.0,536.8 L1950.0,537.4 L1952.0,538.0 M1977.8,540.6 L1979.8,540.5 L1981.8,541.1 L1983.8,541.8 L1985.8,542.0 L1987.8,540.9 L1989.8,539.6 L1991.8,539.2 L1993.8,538.7 L1995.7,537.8 L1997.7,538.0 L1999.7,539.9 L2001.7,542.2 L2003.7,542.4 L2005.6,541.1 L2007.6,540.5 L2009.6,541.7 L2011.5,543.5 L2013.5,544.1 L2015.5,543.1 L2017.4,541.3 L2019.4,539.4 L2021.4,538.8 L2023.3,540.5 L2025.3,543.0 L2027.3,544.9 L2029.2,546.7 L2031.2,548.2 M2058.9,549.7 L2060.8,547.8 L2062.8,548.0 L2064.8,549.1 L2066.8,549.3 L2068.8,548.4 L2070.7,548.0 L2072.7,548.3 L2074.7,549.0 L2076.7,550.7 L2078.7,553.3 L2080.7,554.4 L2082.7,553.4 L2084.7,551.7 L2086.7,551.3 L2088.7,551.2 L2090.7,550.2 L2092.7,549.1 L2094.6,549.0 L2096.6,550.3 L2098.6,551.2 L2100.5,550.9 L2102.5,550.3 L2104.4,550.6 L2106.4,552.6 L2108.3,555.3 L2110.2,557.7 L2112.1,558.8 M2137.0,561.8 L2138.9,562.6 L2140.9,563.1 L2142.8,563.6 L2144.7,564.7 L2146.6,566.1 L2148.5,567.1 L2150.4,566.5 L2152.4,565.8 L2154.3,566.8 L2156.2,569.2 L2158.2,570.5 L2160.1,570.1 L2162.0,569.7 L2163.9,570.1 L2165.9,570.4 L2167.8,570.9 L2169.7,572.4 L2171.7,573.5 L2173.6,573.1 L2175.5,572.2 L2177.5,573.1 L2179.4,575.9 L2181.3,578.9 L2183.2,580.5 L2185.2,580.2 L2187.1,578.6 L2189.0,577.4 L2190.9,577.5 L2192.9,578.3 M2223.6,589.4 L2225.5,589.7 L2227.4,589.7 L2229.4,590.2 L2231.3,590.8 L2233.2,590.8 L2235.2,590.8 L2237.1,591.8 L2239.1,593.5 L2241.0,594.2 L2242.9,593.3 L2244.9,592.0 L2246.8,592.1 L2248.7,593.2 L2250.7,593.7 L2252.6,593.3 M2269.9,598.2 L2271.9,599.7 L2273.8,600.7 L2275.7,601.0 L2277.6,601.3 L2279.5,601.7 L2281.4,602.4 L2283.3,603.3 L2285.2,605.0 L2287.1,607.3 L2289.0,609.1 L2290.9,609.8 L2292.8,610.1 L2294.7,610.0 L2296.6,609.5 L2298.5,609.3 L2300.4,610.0 L2302.4,610.9 L2304.3,611.0 L2306.2,610.5 L2308.1,611.3 L2310.0,613.3 L2311.9,614.4 L2313.8,613.6 L2315.7,612.8 L2317.6,614.0 L2319.5,617.0" stroke="#000" stroke-width="5.7"/>
</g>
<g fill="#000" shape-rendering="crispEdges">
<rect x="319.15" y="138.70" width="4.6" height="1595.30"/>
<rect x="296" y="1729.20" width="2026.50" height="4.8"/>
<rect x="296" y="1729.50" width="26" height="4.2"/>
<rect x="300.5" y="1676.48" width="21" height="4.2"/>
<rect x="300.5" y="1623.46" width="21" height="4.2"/>
<rect x="300.5" y="1570.44" width="21" height="4.2"/>
<rect x="300.5" y="1517.42" width="21" height="4.2"/>
<rect x="296" y="1464.40" width="26" height="4.2"/>
<rect x="300.5" y="1411.38" width="21" height="4.2"/>
<rect x="300.5" y="1358.36" width="21" height="4.2"/>
<rect x="300.5" y="1305.34" width="21" height="4.2"/>
<rect x="300.5" y="1252.32" width="21" height="4.2"/>
<rect x="296" y="1199.30" width="26" height="4.2"/>
<rect x="300.5" y="1146.28" width="21" height="4.2"/>
<rect x="300.5" y="1093.26" width="21" height="4.2"/>
<rect x="300.5" y="1040.24" width="21" height="4.2"/>
<rect x="300.5" y="987.22" width="21" height="4.2"/>
<rect x="296" y="934.20" width="26" height="4.2"/>
<rect x="300.5" y="881.18" width="21" height="4.2"/>
<rect x="300.5" y="828.16" width="21" height="4.2"/>
<rect x="300.5" y="775.14" width="21" height="4.2"/>
<rect x="300.5" y="722.12" width="21" height="4.2"/>
<rect x="296" y="669.10" width="26" height="4.2"/>
<rect x="300.5" y="616.08" width="21" height="4.2"/>
<rect x="300.5" y="563.06" width="21" height="4.2"/>
<rect x="300.5" y="510.04" width="21" height="4.2"/>
<rect x="300.5" y="457.02" width="21" height="4.2"/>
<rect x="296" y="404.00" width="26" height="4.2"/>
<rect x="300.5" y="350.98" width="21" height="4.2"/>
<rect x="300.5" y="297.96" width="21" height="4.2"/>
<rect x="300.5" y="244.94" width="21" height="4.2"/>
<rect x="300.5" y="191.92" width="21" height="4.2"/>
<rect x="296" y="138.90" width="26" height="4.2"/>
<rect x="319.25" y="1731.60" width="4.3" height="26"/>
<rect x="399.20" y="1731.60" width="4.3" height="16.5"/>
<rect x="479.15" y="1731.60" width="4.3" height="16.5"/>
<rect x="559.10" y="1731.60" width="4.3" height="16.5"/>
<rect x="639.05" y="1731.60" width="4.3" height="16.5"/>
<rect x="719.00" y="1731.60" width="4.3" height="26"/>
<rect x="798.95" y="1731.60" width="4.3" height="16.5"/>
<rect x="878.90" y="1731.60" width="4.3" height="16.5"/>
<rect x="958.85" y="1731.60" width="4.3" height="16.5"/>
<rect x="1038.80" y="1731.60" width="4.3" height="16.5"/>
<rect x="1118.75" y="1731.60" width="4.3" height="26"/>
<rect x="1198.70" y="1731.60" width="4.3" height="16.5"/>
<rect x="1278.65" y="1731.60" width="4.3" height="16.5"/>
<rect x="1358.60" y="1731.60" width="4.3" height="16.5"/>
<rect x="1438.55" y="1731.60" width="4.3" height="16.5"/>
<rect x="1518.50" y="1731.60" width="4.3" height="26"/>
<rect x="1598.45" y="1731.60" width="4.3" height="16.5"/>
<rect x="1678.40" y="1731.60" width="4.3" height="16.5"/>
<rect x="1758.35" y="1731.60" width="4.3" height="16.5"/>
<rect x="1838.30" y="1731.60" width="4.3" height="16.5"/>
<rect x="1918.25" y="1731.60" width="4.3" height="26"/>
<rect x="1998.20" y="1731.60" width="4.3" height="16.5"/>
<rect x="2078.15" y="1731.60" width="4.3" height="16.5"/>
<rect x="2158.10" y="1731.60" width="4.3" height="16.5"/>
<rect x="2238.05" y="1731.60" width="4.3" height="16.5"/>
<rect x="2318.00" y="1731.60" width="4.3" height="26"/>
</g>
<g font-family="'Liberation Serif', serif" font-size="73.8" fill="#000" stroke="#fff" stroke-width="0.9">
<text x="251" y="1753.9" text-anchor="end">0</text>
<text x="251" y="1488.8" text-anchor="end">20</text>
<text x="251" y="1223.7" text-anchor="end">40</text>
<text x="251" y="958.6" text-anchor="end">60</text>
<text x="251" y="693.5" text-anchor="end">80</text>
<text x="251" y="428.4" text-anchor="end">100</text>
<text x="251" y="163.3" text-anchor="end">120</text>
<text x="318.8" y="1846" text-anchor="middle">0</text>
<text x="718.6" y="1846" text-anchor="middle">1</text>
<text x="1118.4" y="1846" text-anchor="middle">2</text>
<text x="1518.1" y="1846" text-anchor="middle">3</text>
<text x="1917.9" y="1846" text-anchor="middle">4</text>
<text x="2317.6" y="1846" text-anchor="middle">5</text>
</g>
<g font-family="'Liberation Serif', serif" font-size="90" fill="#000" stroke="#fff" stroke-width="1.1">
<text x="1319" y="1926.4" text-anchor="middle">Strain (%)</text>
<text transform="translate(133.5,934.5) rotate(-90)" text-anchor="middle">Stress (MPa)</text>
</g>
<g fill="none" shape-rendering="crispEdges">
<line x1="1796" y1="951" x2="1969" y2="951" stroke="#000" stroke-width="8.3" stroke-dasharray="66.5 26 8.3 25.5"/>
<line x1="1796" y1="1043.3" x2="1969" y2="1043.3" stroke="#a6a6a6" stroke-width="8.8"/>
<line x1="1796" y1="1135.8" x2="1969" y2="1135.8" stroke="#000" stroke-width="8.3"/>
<line x1="1800" y1="1230.8" x2="1965" y2="1230.8" stroke="#000" stroke-width="4" stroke-dasharray="11 6"/>
<line x1="1796" y1="1325.6" x2="1969" y2="1325.6" stroke="#000" stroke-width="8.3" stroke-dasharray="66.5 26"/>
</g>
<g font-family="'Liberation Serif', serif" font-size="77" fill="#000" stroke="#fff" stroke-width="0.9">
<text x="1980.8" y="970.5">Sample 1</text>
<text x="1980.8" y="1067.5">Sample 2</text>
<text x="1980.8" y="1160.1">Sample 3</text>
<text x="1980.8" y="1252.5">Sample 4</text>
<text x="1980.8" y="1345.5">Sample 5</text>
</g>
</svg>
</body></html>
